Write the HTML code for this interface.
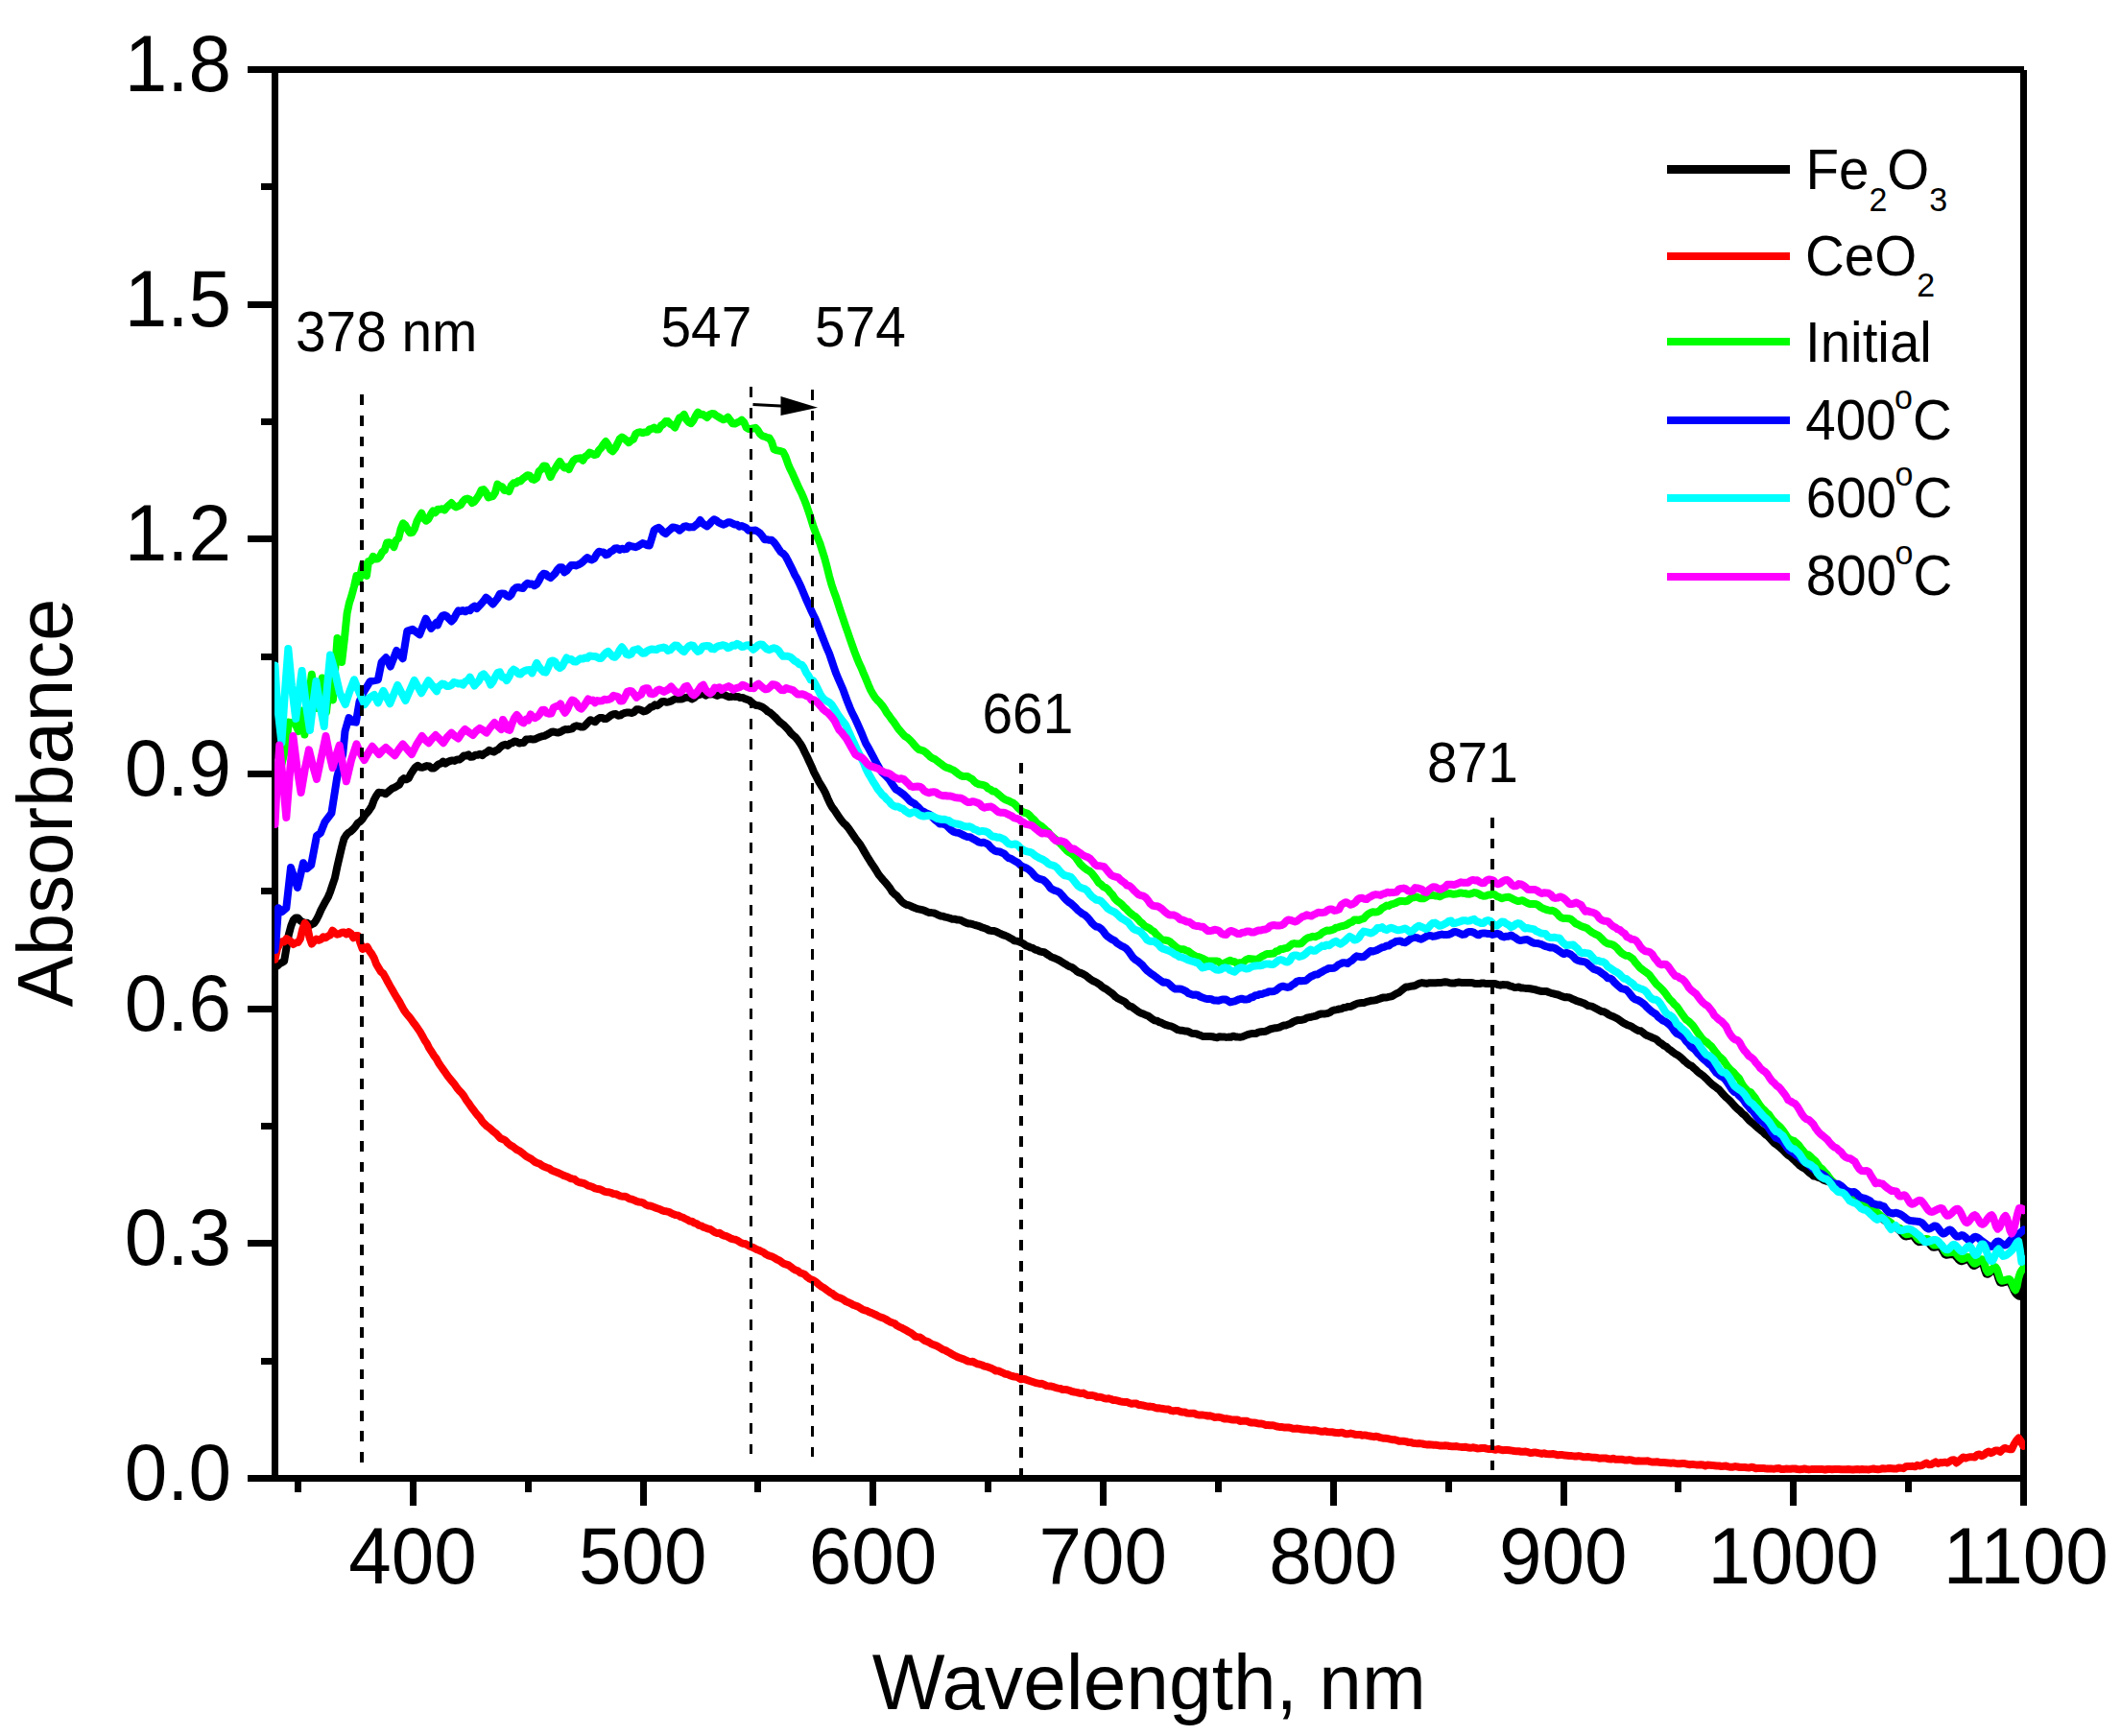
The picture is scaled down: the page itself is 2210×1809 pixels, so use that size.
<!DOCTYPE html>
<html><head><meta charset="utf-8"><title>Absorbance spectra</title>
<style>html,body{margin:0;padding:0;background:#fff}svg{display:block}</style></head>
<body>
<svg width="2210" height="1809" viewBox="0 0 2210 1809">
<rect width="2210" height="1809" fill="#fff"/>
<g fill="#000" shape-rendering="crispEdges">
<rect x="283" y="69" width="7" height="1475"/>
<rect x="258" y="69" width="1850.5" height="7"/>
<rect x="258" y="1537" width="1854" height="7"/>
<rect x="2105" y="72.5" width="7" height="1496.5"/>
<rect x="272" y="1415.0" width="12" height="7"/>
<rect x="258" y="1292.0" width="26" height="7"/>
<rect x="272" y="1170.0" width="12" height="7"/>
<rect x="258" y="1048.0" width="26" height="7"/>
<rect x="272" y="925.0" width="12" height="7"/>
<rect x="258" y="803.0" width="26" height="7"/>
<rect x="272" y="681.0" width="12" height="7"/>
<rect x="258" y="558.0" width="26" height="7"/>
<rect x="272" y="436.0" width="12" height="7"/>
<rect x="258" y="314.0" width="26" height="7"/>
<rect x="272" y="191.0" width="12" height="7"/>
<rect x="307.0" y="1543" width="7" height="12"/>
<rect x="427.0" y="1543" width="7" height="26"/>
<rect x="547.0" y="1543" width="7" height="12"/>
<rect x="667.0" y="1543" width="7" height="26"/>
<rect x="786.0" y="1543" width="7" height="12"/>
<rect x="906.0" y="1543" width="7" height="26"/>
<rect x="1026.0" y="1543" width="7" height="12"/>
<rect x="1146.0" y="1543" width="7" height="26"/>
<rect x="1266.0" y="1543" width="7" height="12"/>
<rect x="1386.0" y="1543" width="7" height="26"/>
<rect x="1506.0" y="1543" width="7" height="12"/>
<rect x="1626.0" y="1543" width="7" height="26"/>
<rect x="1745.0" y="1543" width="7" height="12"/>
<rect x="1865.0" y="1543" width="7" height="26"/>
<rect x="1985.0" y="1543" width="7" height="12"/>
</g>
<clipPath id="pc"><rect x="286" y="60" width="1824" height="1490"/></clipPath>
<g fill="none" stroke-width="8" stroke-linejoin="round" stroke-linecap="round" clip-path="url(#pc)">
<path stroke="#000000" d="M286.5 1006.9 L288.9 1006.6 L291.3 1004.4 L293.7 1003.0 L296.1 1001.5 L298.5 987.3 L300.9 973.7 L303.3 964.8 L305.7 958.7 L308.1 956.5 L310.5 956.6 L312.9 959.4 L315.3 960.9 L317.7 961.7 L320.1 961.7 L322.5 964.2 L324.9 963.2 L327.3 962.1 L329.7 958.5 L332.1 953.8 L334.5 948.1 L336.9 943.7 L339.3 939.2 L341.7 935.1 L344.1 929.3 L346.5 921.9 L348.9 915.0 L351.3 903.4 L353.7 893.0 L356.1 882.8 L358.5 873.9 L360.9 870.1 L363.3 867.6 L365.7 866.2 L368.1 863.8 L370.5 861.1 L372.9 857.6 L375.3 856.1 L377.7 853.5 L380.1 849.6 L382.5 846.9 L384.9 843.9 L387.3 840.3 L389.7 833.6 L392.1 829.3 L394.5 825.7 L396.9 826.1 L399.3 826.2 L401.7 827.3 L404.1 825.4 L406.5 823.3 L408.9 821.4 L411.3 820.5 L413.7 819.1 L416.1 817.8 L418.5 813.1 L420.9 811.1 L423.3 812.3 L425.7 811.2 L428.1 806.4 L430.5 802.7 L432.9 799.5 L435.3 797.8 L437.7 799.5 L440.1 799.8 L442.5 798.9 L444.9 798.1 L447.3 798.5 L449.7 800.6 L452.1 800.4 L454.5 798.7 L456.9 796.3 L459.3 795.7 L461.7 793.6 L464.1 795.6 L466.5 794.0 L468.9 793.0 L471.3 792.4 L473.7 792.9 L476.1 791.5 L478.5 791.6 L480.9 790.0 L483.3 787.4 L485.7 787.5 L488.1 786.4 L490.5 788.8 L492.9 788.5 L495.3 786.8 L497.7 786.7 L500.1 785.7 L502.5 787.2 L504.9 785.1 L507.3 783.9 L509.7 781.9 L512.1 782.7 L514.5 783.5 L516.9 782.0 L519.3 780.8 L521.7 778.3 L524.1 776.5 L526.5 775.8 L528.9 777.0 L531.3 774.9 L533.7 774.2 L536.1 772.4 L538.5 772.9 L540.9 774.6 L543.3 773.9 L545.7 773.9 L548.1 770.6 L550.5 770.4 L552.9 770.1 L555.3 770.5 L557.7 770.2 L560.1 769.0 L562.5 768.1 L564.9 767.2 L567.3 766.9 L569.7 765.7 L572.1 764.3 L574.5 762.8 L576.9 762.6 L579.3 763.2 L581.7 763.4 L584.1 762.6 L586.5 761.2 L588.9 760.0 L591.3 760.2 L593.7 759.8 L596.1 759.3 L598.5 757.0 L600.9 756.3 L603.3 756.8 L605.7 757.6 L608.1 757.5 L610.5 755.1 L612.9 752.6 L615.3 750.2 L617.7 751.3 L620.1 752.3 L622.5 749.6 L624.9 748.0 L627.3 747.9 L629.7 749.1 L632.1 748.9 L634.5 747.1 L636.9 745.2 L639.3 744.3 L641.7 744.1 L644.1 745.7 L646.5 745.3 L648.9 743.7 L651.3 742.9 L653.7 742.4 L656.1 742.6 L658.5 743.0 L660.9 741.8 L663.3 739.3 L665.7 739.2 L668.1 740.0 L670.5 741.4 L672.9 740.9 L675.3 739.4 L677.7 737.0 L680.1 736.4 L682.5 734.4 L684.9 735.3 L687.3 733.5 L689.7 731.2 L692.1 730.9 L694.5 731.8 L696.9 731.3 L699.3 730.7 L701.7 729.2 L704.1 727.9 L706.5 728.5 L708.9 728.5 L711.3 728.2 L713.7 727.1 L716.1 726.6 L718.5 726.9 L720.9 728.5 L723.3 727.2 L725.7 725.1 L728.1 724.1 L730.5 723.4 L732.9 722.8 L735.3 724.7 L737.7 723.4 L740.1 723.6 L742.5 723.1 L744.9 723.8 L747.3 725.0 L749.7 723.8 L752.1 723.6 L754.5 724.0 L756.9 725.1 L759.3 726.2 L761.7 726.1 L764.1 725.4 L766.5 726.1 L768.9 725.9 L771.3 727.1 L773.7 726.9 L776.1 728.1 L778.5 728.9 L780.9 729.8 L783.3 732.0 L785.7 733.9 L788.1 735.0 L790.5 735.3 L792.9 736.2 L795.3 737.4 L797.7 739.2 L800.1 741.5 L802.5 742.7 L804.9 744.8 L807.3 746.9 L809.7 749.3 L812.1 752.0 L814.5 753.9 L816.9 755.7 L819.3 758.2 L821.7 760.8 L824.1 764.0 L826.5 766.2 L828.9 768.3 L831.3 771.3 L833.7 774.7 L836.1 778.6 L838.5 783.7 L840.9 788.5 L843.3 793.7 L845.7 798.9 L848.1 804.6 L850.5 809.2 L852.9 813.9 L855.3 818.0 L857.7 821.8 L860.1 826.4 L862.5 832.1 L864.9 837.3 L867.3 841.6 L869.7 844.6 L872.1 848.2 L874.5 851.9 L876.9 855.2 L879.3 858.0 L881.7 860.1 L884.1 863.0 L886.5 866.5 L888.9 870.0 L891.3 873.5 L893.7 876.8 L896.1 879.7 L898.5 883.7 L900.9 888.0 L903.3 892.1 L905.7 895.9 L908.1 899.8 L910.5 903.3 L912.9 907.0 L915.3 911.1 L917.7 914.0 L920.1 916.9 L922.5 919.5 L924.9 922.4 L927.3 925.5 L929.7 929.4 L932.1 931.7 L934.5 933.5 L936.9 936.5 L939.3 939.2 L941.7 941.2 L944.1 942.7 L946.5 943.1 L948.9 944.1 L951.3 945.3 L953.7 946.3 L956.1 947.1 L958.5 947.6 L960.9 948.2 L963.3 948.9 L965.7 950.0 L968.1 950.9 L970.5 951.1 L972.9 951.4 L975.3 952.2 L977.7 953.6 L980.1 954.5 L982.5 954.8 L984.9 955.7 L987.3 956.2 L989.7 956.8 L992.1 957.7 L994.5 957.7 L996.9 958.4 L999.3 958.5 L1001.7 959.2 L1004.1 960.5 L1006.5 961.6 L1008.9 962.4 L1011.3 962.6 L1013.7 963.2 L1016.1 964.0 L1018.5 964.6 L1020.9 965.4 L1023.3 966.5 L1025.7 967.2 L1028.1 968.0 L1030.5 969.5 L1032.9 969.9 L1035.3 970.0 L1037.7 970.6 L1040.1 971.8 L1042.5 973.0 L1044.9 974.1 L1047.3 974.9 L1049.7 975.9 L1052.1 977.3 L1054.5 978.5 L1056.9 980.3 L1059.3 980.6 L1061.7 981.2 L1064.1 982.2 L1066.5 983.5 L1068.9 985.4 L1071.3 986.2 L1073.7 987.4 L1076.1 987.9 L1078.5 989.6 L1080.9 990.2 L1083.3 991.3 L1085.7 992.0 L1088.1 992.2 L1090.5 994.0 L1092.9 995.5 L1095.3 997.1 L1097.7 998.1 L1100.1 999.0 L1102.5 1000.2 L1104.9 1001.4 L1107.3 1003.1 L1109.7 1004.4 L1112.1 1005.9 L1114.5 1007.2 L1116.9 1008.0 L1119.3 1009.8 L1121.7 1011.8 L1124.1 1013.4 L1126.5 1014.0 L1128.9 1015.2 L1131.3 1016.5 L1133.7 1018.5 L1136.1 1020.4 L1138.5 1022.0 L1140.9 1023.0 L1143.3 1024.3 L1145.7 1025.8 L1148.1 1028.0 L1150.5 1029.7 L1152.9 1030.9 L1155.3 1032.7 L1157.7 1034.4 L1160.1 1036.4 L1162.5 1038.8 L1164.9 1040.5 L1167.3 1041.7 L1169.7 1042.8 L1172.1 1044.0 L1174.5 1046.6 L1176.9 1048.5 L1179.3 1049.1 L1181.7 1051.0 L1184.1 1052.7 L1186.5 1054.4 L1188.9 1055.7 L1191.3 1056.6 L1193.7 1057.7 L1196.1 1058.5 L1198.5 1060.3 L1200.9 1062.1 L1203.3 1063.4 L1205.7 1063.8 L1208.1 1065.2 L1210.5 1065.9 L1212.9 1067.2 L1215.3 1068.2 L1217.7 1068.9 L1220.1 1069.4 L1222.5 1070.4 L1224.9 1071.8 L1227.3 1073.2 L1229.7 1073.7 L1232.1 1073.8 L1234.5 1074.4 L1236.9 1074.4 L1239.3 1075.5 L1241.7 1076.8 L1244.1 1077.1 L1246.5 1077.2 L1248.9 1078.2 L1251.3 1079.1 L1253.7 1080.1 L1256.1 1079.9 L1258.5 1080.1 L1260.9 1080.0 L1263.3 1080.2 L1265.7 1080.9 L1268.1 1081.2 L1270.5 1080.2 L1272.9 1080.5 L1275.3 1080.4 L1277.7 1080.9 L1280.1 1080.6 L1282.5 1080.8 L1284.9 1079.7 L1287.3 1080.4 L1289.7 1080.6 L1292.1 1080.7 L1294.5 1080.4 L1296.9 1079.4 L1299.3 1078.4 L1301.7 1077.7 L1304.1 1077.1 L1306.5 1077.1 L1308.9 1076.9 L1311.3 1075.7 L1313.7 1075.2 L1316.1 1074.9 L1318.5 1074.7 L1320.9 1073.8 L1323.3 1072.5 L1325.7 1071.9 L1328.1 1071.3 L1330.5 1071.2 L1332.9 1070.7 L1335.3 1069.5 L1337.7 1068.6 L1340.1 1068.4 L1342.5 1067.4 L1344.9 1066.5 L1347.3 1065.0 L1349.7 1063.9 L1352.1 1063.1 L1354.5 1062.9 L1356.9 1062.7 L1359.3 1062.1 L1361.7 1060.6 L1364.1 1060.1 L1366.5 1059.7 L1368.9 1059.2 L1371.3 1058.6 L1373.7 1057.4 L1376.1 1056.6 L1378.5 1056.5 L1380.9 1056.4 L1383.3 1056.0 L1385.7 1055.1 L1388.1 1053.3 L1390.5 1052.5 L1392.9 1052.1 L1395.3 1051.5 L1397.7 1051.3 L1400.1 1050.0 L1402.5 1049.7 L1404.9 1048.9 L1407.3 1049.1 L1409.7 1047.8 L1412.1 1046.6 L1414.5 1045.6 L1416.9 1045.3 L1419.3 1045.0 L1421.7 1044.9 L1424.1 1043.9 L1426.5 1043.3 L1428.9 1042.7 L1431.3 1042.5 L1433.7 1042.1 L1436.1 1041.3 L1438.5 1040.4 L1440.9 1039.6 L1443.3 1039.5 L1445.7 1039.2 L1448.1 1038.7 L1450.5 1038.1 L1452.9 1036.6 L1455.3 1035.2 L1457.7 1034.3 L1460.1 1032.3 L1462.5 1030.2 L1464.9 1028.5 L1467.3 1028.4 L1469.7 1027.8 L1472.1 1027.6 L1474.5 1027.0 L1476.9 1025.7 L1479.3 1024.6 L1481.7 1024.1 L1484.1 1024.5 L1486.5 1024.9 L1488.9 1024.3 L1491.3 1024.2 L1493.7 1024.3 L1496.1 1024.2 L1498.5 1024.1 L1500.9 1024.1 L1503.3 1023.6 L1505.7 1023.2 L1508.1 1023.5 L1510.5 1024.3 L1512.9 1024.5 L1515.3 1024.6 L1517.7 1023.9 L1520.1 1023.5 L1522.5 1023.9 L1524.9 1024.1 L1527.3 1024.1 L1529.7 1024.0 L1532.1 1023.9 L1534.5 1024.2 L1536.9 1025.1 L1539.3 1025.0 L1541.7 1025.1 L1544.1 1024.4 L1546.5 1024.6 L1548.9 1025.1 L1551.3 1025.1 L1553.7 1025.1 L1556.1 1024.9 L1558.5 1025.3 L1560.9 1026.1 L1563.3 1026.7 L1565.7 1026.1 L1568.1 1026.3 L1570.5 1026.3 L1572.9 1027.3 L1575.3 1027.9 L1577.7 1028.9 L1580.1 1028.9 L1582.5 1028.5 L1584.9 1029.5 L1587.3 1029.6 L1589.7 1029.9 L1592.1 1030.0 L1594.5 1030.3 L1596.9 1030.7 L1599.3 1031.1 L1601.7 1031.9 L1604.1 1032.5 L1606.5 1033.0 L1608.9 1033.0 L1611.3 1032.9 L1613.7 1034.0 L1616.1 1034.8 L1618.5 1035.4 L1620.9 1036.0 L1623.3 1036.5 L1625.7 1037.5 L1628.1 1038.4 L1630.5 1039.2 L1632.9 1039.1 L1635.3 1039.5 L1637.7 1040.7 L1640.1 1041.7 L1642.5 1042.9 L1644.9 1043.6 L1647.3 1044.4 L1649.7 1045.2 L1652.1 1046.4 L1654.5 1048.0 L1656.9 1048.4 L1659.3 1048.9 L1661.7 1050.2 L1664.1 1051.5 L1666.5 1052.9 L1668.9 1054.0 L1671.3 1054.3 L1673.7 1055.5 L1676.1 1057.3 L1678.5 1058.4 L1680.9 1059.3 L1683.3 1060.5 L1685.7 1061.8 L1688.1 1063.5 L1690.5 1065.3 L1692.9 1066.7 L1695.3 1067.9 L1697.7 1068.8 L1700.1 1069.7 L1702.5 1071.4 L1704.9 1072.9 L1707.3 1074.0 L1709.7 1074.3 L1712.1 1076.2 L1714.5 1078.1 L1716.9 1079.3 L1719.3 1080.2 L1721.7 1081.4 L1724.1 1082.2 L1726.5 1083.7 L1728.9 1086.1 L1731.3 1087.5 L1733.7 1089.6 L1736.1 1090.6 L1738.5 1092.9 L1740.9 1094.6 L1743.3 1096.5 L1745.7 1098.2 L1748.1 1099.5 L1750.5 1101.2 L1752.9 1103.4 L1755.3 1105.8 L1757.7 1107.8 L1760.1 1109.7 L1762.5 1110.7 L1764.9 1113.0 L1767.3 1115.1 L1769.7 1117.5 L1772.1 1119.1 L1774.5 1120.9 L1776.9 1123.1 L1779.3 1125.4 L1781.7 1127.9 L1784.1 1130.2 L1786.5 1131.8 L1788.9 1133.7 L1791.3 1135.5 L1793.7 1138.3 L1796.1 1141.0 L1798.5 1143.5 L1800.9 1145.5 L1803.3 1147.9 L1805.7 1150.6 L1808.1 1153.3 L1810.5 1155.6 L1812.9 1157.5 L1815.3 1160.2 L1817.7 1161.9 L1820.1 1164.7 L1822.5 1167.4 L1824.9 1169.4 L1827.3 1171.3 L1829.7 1173.6 L1832.1 1175.8 L1834.5 1177.8 L1836.9 1179.5 L1839.3 1182.0 L1841.7 1183.5 L1844.1 1186.2 L1846.5 1188.8 L1848.9 1191.4 L1851.3 1192.9 L1853.7 1194.8 L1856.1 1196.9 L1858.5 1199.2 L1860.9 1201.6 L1863.3 1203.9 L1865.7 1205.4 L1868.1 1207.7 L1870.5 1209.8 L1872.9 1212.2 L1875.3 1214.5 L1877.7 1216.2 L1880.1 1217.6 L1882.5 1219.3 L1884.9 1221.7 L1887.3 1223.4 L1889.7 1225.6 L1892.1 1225.8 L1894.5 1227.0 L1896.9 1227.7 L1899.3 1229.2 L1901.7 1230.2 L1904.1 1231.1 L1906.5 1231.6 L1908.9 1232.5 L1911.3 1234.9 L1913.7 1236.5 L1916.1 1237.7 L1918.5 1238.6 L1920.9 1240.6 L1923.3 1242.1 L1925.7 1244.6 L1928.1 1246.2 L1930.5 1248.5 L1932.9 1249.5 L1935.3 1251.1 L1937.7 1254.9 L1940.1 1255.4 L1942.5 1257.2 L1944.9 1257.9 L1947.3 1259.5 L1949.7 1261.6 L1952.1 1264.3 L1954.5 1266.3 L1956.9 1266.9 L1959.3 1268.3 L1961.7 1270.3 L1964.1 1272.2 L1966.5 1273.5 L1968.9 1275.0 L1971.3 1275.8 L1973.7 1277.7 L1975.3 1278.9 L1976.9 1280.2 L1978.5 1281.6 L1980.1 1283.1 L1981.7 1285.1 L1983.3 1287.1 L1984.9 1288.3 L1986.5 1288.4 L1988.1 1288.1 L1989.7 1287.6 L1991.3 1287.3 L1992.9 1287.4 L1994.5 1288.9 L1996.1 1291.1 L1997.7 1293.2 L1999.3 1294.2 L2000.9 1294.1 L2002.5 1293.9 L2004.1 1293.5 L2005.7 1293.3 L2007.3 1293.2 L2008.9 1294.1 L2010.5 1295.9 L2012.1 1298.0 L2013.7 1299.5 L2015.3 1299.8 L2016.9 1299.6 L2018.5 1299.4 L2020.1 1299.2 L2021.7 1299.3 L2023.3 1301.4 L2024.9 1304.5 L2026.5 1307.1 L2028.1 1307.8 L2029.7 1307.6 L2031.3 1307.4 L2032.9 1307.1 L2034.5 1307.0 L2036.1 1307.4 L2037.7 1308.8 L2039.3 1310.7 L2040.9 1312.6 L2042.5 1313.9 L2044.1 1314.3 L2045.7 1313.8 L2047.3 1312.9 L2048.9 1312.1 L2050.5 1311.9 L2052.1 1313.4 L2053.7 1316.0 L2055.3 1318.3 L2056.9 1319.1 L2058.5 1318.4 L2060.1 1317.2 L2061.7 1315.8 L2063.3 1314.7 L2064.9 1314.4 L2066.5 1317.6 L2068.1 1323.3 L2069.7 1327.6 L2071.3 1327.8 L2072.9 1326.6 L2074.5 1325.0 L2076.1 1323.5 L2077.7 1322.5 L2079.3 1323.2 L2080.9 1327.3 L2082.5 1332.6 L2084.1 1336.4 L2085.7 1336.8 L2087.3 1336.5 L2088.9 1336.0 L2090.5 1335.6 L2092.1 1335.2 L2093.7 1335.5 L2095.3 1337.7 L2096.9 1341.1 L2098.5 1344.7 L2100.1 1347.5 L2101.7 1349.2 L2103.3 1350.6 L2104.9 1350.9 L2106.5 1348.4 L2108.1 1343.5 L2108.5 1342.0"/>
<path stroke="#ff0000" d="M286.5 999.7 L288.9 988.7 L291.3 983.6 L293.7 981.2 L296.1 981.5 L298.5 978.1 L300.9 979.7 L303.3 981.3 L305.7 984.0 L308.1 982.4 L310.5 982.1 L312.9 978.4 L315.3 968.2 L317.7 961.9 L320.1 965.1 L322.5 976.9 L324.9 983.6 L327.3 980.5 L329.7 978.5 L332.1 979.8 L334.5 978.8 L336.9 976.2 L339.3 977.2 L341.7 975.5 L344.1 974.3 L346.5 969.7 L348.9 972.0 L351.3 973.7 L353.7 973.1 L356.1 971.8 L358.5 971.4 L360.9 973.4 L363.3 971.1 L365.7 972.8 L368.1 977.2 L370.5 974.9 L372.9 974.9 L375.3 982.4 L377.7 988.9 L380.1 988.0 L382.5 986.6 L384.9 990.8 L387.3 994.0 L389.7 998.2 L392.1 1004.6 L394.5 1008.6 L396.9 1012.6 L399.3 1014.5 L401.7 1018.7 L404.1 1023.3 L406.5 1027.6 L408.9 1031.8 L411.3 1035.9 L413.7 1040.0 L416.1 1043.7 L418.5 1048.3 L420.9 1052.6 L423.3 1056.0 L425.7 1058.8 L428.1 1061.8 L430.5 1065.2 L432.9 1068.3 L435.3 1071.8 L437.7 1075.2 L440.1 1079.4 L442.5 1084.0 L444.9 1087.5 L447.3 1092.4 L449.7 1096.0 L452.1 1099.9 L454.5 1102.9 L456.9 1107.5 L459.3 1111.0 L461.7 1114.3 L464.1 1117.7 L466.5 1121.2 L468.9 1124.2 L471.3 1127.1 L473.7 1130.0 L476.1 1133.6 L478.5 1136.5 L480.9 1138.8 L483.3 1142.0 L485.7 1146.1 L488.1 1149.2 L490.5 1152.8 L492.9 1156.0 L495.3 1159.2 L497.7 1162.2 L500.1 1164.8 L502.5 1168.6 L504.9 1171.2 L507.3 1173.5 L509.7 1175.1 L512.1 1177.3 L514.5 1179.4 L516.9 1181.2 L519.3 1183.9 L521.7 1186.3 L524.1 1187.2 L526.5 1188.3 L528.9 1191.0 L531.3 1193.1 L533.7 1194.3 L536.1 1196.1 L538.5 1198.0 L540.9 1199.1 L543.3 1200.8 L545.7 1202.7 L548.1 1204.7 L550.5 1206.1 L552.9 1207.3 L555.3 1209.1 L557.7 1211.0 L560.1 1212.0 L562.5 1212.8 L564.9 1214.7 L567.3 1215.8 L569.7 1216.7 L572.1 1217.5 L574.5 1219.3 L576.9 1220.4 L579.3 1221.2 L581.7 1222.2 L584.1 1223.3 L586.5 1224.6 L588.9 1225.4 L591.3 1226.3 L593.7 1227.6 L596.1 1228.4 L598.5 1228.8 L600.9 1230.8 L603.3 1232.0 L605.7 1232.5 L608.1 1233.0 L610.5 1234.1 L612.9 1235.6 L615.3 1236.2 L617.7 1237.1 L620.1 1238.3 L622.5 1239.0 L624.9 1239.3 L627.3 1240.2 L629.7 1241.6 L632.1 1242.2 L634.5 1242.3 L636.9 1243.0 L639.3 1244.1 L641.7 1244.3 L644.1 1245.3 L646.5 1246.4 L648.9 1246.8 L651.3 1246.8 L653.7 1247.8 L656.1 1249.3 L658.5 1249.7 L660.9 1250.7 L663.3 1251.9 L665.7 1252.5 L668.1 1252.8 L670.5 1253.6 L672.9 1255.4 L675.3 1256.4 L677.7 1256.6 L680.1 1257.3 L682.5 1258.4 L684.9 1259.2 L687.3 1260.0 L689.7 1261.2 L692.1 1262.1 L694.5 1262.3 L696.9 1262.8 L699.3 1264.2 L701.7 1265.3 L704.1 1266.1 L706.5 1266.4 L708.9 1267.8 L711.3 1268.5 L713.7 1269.9 L716.1 1270.9 L718.5 1272.5 L720.9 1272.7 L723.3 1274.3 L725.7 1275.0 L728.1 1276.8 L730.5 1277.3 L732.9 1278.7 L735.3 1279.6 L737.7 1280.5 L740.1 1280.9 L742.5 1282.6 L744.9 1284.1 L747.3 1285.1 L749.7 1284.7 L752.1 1286.5 L754.5 1287.6 L756.9 1288.2 L759.3 1289.3 L761.7 1290.7 L764.1 1291.4 L766.5 1291.8 L768.9 1292.9 L771.3 1294.6 L773.7 1295.7 L776.1 1295.9 L778.5 1297.1 L780.9 1298.5 L783.3 1299.4 L785.7 1300.5 L788.1 1301.9 L790.5 1302.7 L792.9 1303.9 L795.3 1304.9 L797.7 1306.7 L800.1 1308.1 L802.5 1308.9 L804.9 1309.6 L807.3 1311.0 L809.7 1312.5 L812.1 1313.5 L814.5 1315.3 L816.9 1316.9 L819.3 1317.6 L821.7 1318.4 L824.1 1320.2 L826.5 1322.1 L828.9 1323.5 L831.3 1324.3 L833.7 1326.3 L836.1 1327.0 L838.5 1328.2 L840.9 1330.5 L843.3 1332.3 L845.7 1333.5 L848.1 1334.5 L850.5 1336.1 L852.9 1338.3 L855.3 1340.2 L857.7 1341.6 L860.1 1343.3 L862.5 1345.1 L864.9 1346.8 L867.3 1347.9 L869.7 1350.0 L872.1 1351.5 L874.5 1352.3 L876.9 1353.2 L879.3 1354.7 L881.7 1356.3 L884.1 1357.2 L886.5 1358.3 L888.9 1359.7 L891.3 1360.6 L893.7 1361.3 L896.1 1362.8 L898.5 1364.4 L900.9 1365.3 L903.3 1365.9 L905.7 1367.3 L908.1 1368.1 L910.5 1369.2 L912.9 1370.2 L915.3 1371.6 L917.7 1372.6 L920.1 1373.3 L922.5 1374.5 L924.9 1376.0 L927.3 1377.4 L929.7 1378.3 L932.1 1379.0 L934.5 1381.3 L936.9 1382.6 L939.3 1383.6 L941.7 1384.9 L944.1 1386.1 L946.5 1387.7 L948.9 1388.8 L951.3 1390.6 L953.7 1392.7 L956.1 1393.1 L958.5 1393.4 L960.9 1395.1 L963.3 1396.9 L965.7 1397.8 L968.1 1398.8 L970.5 1400.3 L972.9 1401.4 L975.3 1402.1 L977.7 1403.3 L980.1 1404.8 L982.5 1406.3 L984.9 1407.0 L987.3 1408.5 L989.7 1409.8 L992.1 1411.2 L994.5 1412.5 L996.9 1413.7 L999.3 1414.7 L1001.7 1415.6 L1004.1 1416.3 L1006.5 1417.5 L1008.9 1418.6 L1011.3 1418.9 L1013.7 1418.8 L1016.1 1420.2 L1018.5 1421.3 L1020.9 1421.7 L1023.3 1422.5 L1025.7 1423.6 L1028.1 1424.2 L1030.5 1424.9 L1032.9 1425.8 L1035.3 1427.0 L1037.7 1428.5 L1040.1 1428.4 L1042.5 1429.5 L1044.9 1430.4 L1047.3 1431.8 L1049.7 1432.0 L1052.1 1433.2 L1054.5 1434.0 L1056.9 1434.5 L1059.3 1434.8 L1061.7 1436.1 L1064.1 1437.3 L1066.5 1436.9 L1068.9 1437.5 L1071.3 1438.4 L1073.7 1439.2 L1076.1 1440.0 L1078.5 1440.8 L1080.9 1441.4 L1083.3 1441.9 L1085.7 1441.8 L1088.1 1442.9 L1090.5 1444.1 L1092.9 1444.4 L1095.3 1444.6 L1097.7 1445.2 L1100.1 1446.1 L1102.5 1446.6 L1104.9 1447.0 L1107.3 1448.1 L1109.7 1448.0 L1112.1 1448.3 L1114.5 1449.0 L1116.9 1450.0 L1119.3 1450.5 L1121.7 1450.9 L1124.1 1451.5 L1126.5 1452.0 L1128.9 1451.6 L1131.3 1453.0 L1133.7 1453.9 L1136.1 1453.9 L1138.5 1454.1 L1140.9 1454.6 L1143.3 1455.8 L1145.7 1455.8 L1148.1 1456.1 L1150.5 1457.1 L1152.9 1457.6 L1155.3 1457.3 L1157.7 1458.0 L1160.1 1459.1 L1162.5 1459.1 L1164.9 1459.7 L1167.3 1460.4 L1169.7 1460.8 L1172.1 1460.9 L1174.5 1461.1 L1176.9 1462.2 L1179.3 1462.8 L1181.7 1462.4 L1184.1 1462.6 L1186.5 1463.9 L1188.9 1464.1 L1191.3 1464.5 L1193.7 1465.2 L1196.1 1465.7 L1198.5 1465.6 L1200.9 1465.9 L1203.3 1466.7 L1205.7 1467.6 L1208.1 1467.3 L1210.5 1467.8 L1212.9 1468.2 L1215.3 1468.6 L1217.7 1468.6 L1220.1 1469.9 L1222.5 1470.4 L1224.9 1470.0 L1227.3 1470.1 L1229.7 1471.0 L1232.1 1471.6 L1234.5 1471.5 L1236.9 1472.6 L1239.3 1472.8 L1241.7 1472.7 L1244.1 1472.7 L1246.5 1473.8 L1248.9 1474.5 L1251.3 1474.5 L1253.7 1474.6 L1256.1 1474.9 L1258.5 1475.5 L1260.9 1475.3 L1263.3 1476.0 L1265.7 1476.9 L1268.1 1476.7 L1270.5 1476.8 L1272.9 1477.3 L1275.3 1478.4 L1277.7 1478.3 L1280.1 1478.6 L1282.5 1479.2 L1284.9 1479.4 L1287.3 1479.5 L1289.7 1479.6 L1292.1 1480.9 L1294.5 1480.8 L1296.9 1480.7 L1299.3 1480.8 L1301.7 1482.0 L1304.1 1482.5 L1306.5 1482.6 L1308.9 1482.8 L1311.3 1483.5 L1313.7 1483.5 L1316.1 1483.9 L1318.5 1484.9 L1320.9 1485.0 L1323.3 1485.2 L1325.7 1485.2 L1328.1 1485.7 L1330.5 1486.5 L1332.9 1486.9 L1335.3 1487.0 L1337.7 1487.4 L1340.1 1487.6 L1342.5 1487.5 L1344.9 1487.9 L1347.3 1488.8 L1349.7 1488.8 L1352.1 1488.6 L1354.5 1489.0 L1356.9 1489.6 L1359.3 1489.8 L1361.7 1489.7 L1364.1 1490.2 L1366.5 1490.4 L1368.9 1490.3 L1371.3 1490.5 L1373.7 1491.2 L1376.1 1491.7 L1378.5 1491.7 L1380.9 1491.3 L1383.3 1492.1 L1385.7 1492.2 L1388.1 1492.3 L1390.5 1492.7 L1392.9 1493.1 L1395.3 1493.2 L1397.7 1492.7 L1400.1 1493.4 L1402.5 1494.3 L1404.9 1494.2 L1407.3 1493.6 L1409.7 1494.2 L1412.1 1494.9 L1414.5 1495.1 L1416.9 1494.9 L1419.3 1495.7 L1421.7 1495.4 L1424.1 1495.8 L1426.5 1496.3 L1428.9 1496.7 L1431.3 1497.2 L1433.7 1496.8 L1436.1 1497.2 L1438.5 1498.2 L1440.9 1498.7 L1443.3 1498.8 L1445.7 1499.0 L1448.1 1499.7 L1450.5 1500.2 L1452.9 1500.2 L1455.3 1500.8 L1457.7 1501.7 L1460.1 1501.7 L1462.5 1501.7 L1464.9 1502.1 L1467.3 1502.9 L1469.7 1502.9 L1472.1 1503.7 L1474.5 1504.0 L1476.9 1504.2 L1479.3 1504.1 L1481.7 1504.4 L1484.1 1505.0 L1486.5 1505.4 L1488.9 1505.2 L1491.3 1505.4 L1493.7 1505.7 L1496.1 1505.7 L1498.5 1506.1 L1500.9 1506.6 L1503.3 1506.6 L1505.7 1506.3 L1508.1 1506.4 L1510.5 1507.1 L1512.9 1507.3 L1515.3 1507.2 L1517.7 1507.1 L1520.1 1507.6 L1522.5 1507.9 L1524.9 1508.0 L1527.3 1507.8 L1529.7 1508.5 L1532.1 1508.8 L1534.5 1508.3 L1536.9 1508.7 L1539.3 1509.4 L1541.7 1509.3 L1544.1 1509.0 L1546.5 1508.9 L1548.9 1509.6 L1551.3 1510.0 L1553.7 1509.9 L1556.1 1510.3 L1558.5 1510.8 L1560.9 1510.0 L1563.3 1510.6 L1565.7 1511.2 L1568.1 1511.1 L1570.5 1511.1 L1572.9 1511.3 L1575.3 1511.6 L1577.7 1512.0 L1580.1 1512.2 L1582.5 1512.3 L1584.9 1512.7 L1587.3 1512.7 L1589.7 1512.6 L1592.1 1513.2 L1594.5 1514.1 L1596.9 1513.8 L1599.3 1513.4 L1601.7 1513.9 L1604.1 1514.4 L1606.5 1514.9 L1608.9 1514.3 L1611.3 1515.1 L1613.7 1515.2 L1616.1 1515.2 L1618.5 1515.0 L1620.9 1515.7 L1623.3 1516.3 L1625.7 1516.0 L1628.1 1516.1 L1630.5 1516.6 L1632.9 1516.7 L1635.3 1516.9 L1637.7 1517.1 L1640.1 1517.4 L1642.5 1517.5 L1644.9 1517.1 L1647.3 1517.5 L1649.7 1518.3 L1652.1 1518.2 L1654.5 1518.0 L1656.9 1518.4 L1659.3 1518.8 L1661.7 1518.7 L1664.1 1518.9 L1666.5 1519.8 L1668.9 1519.5 L1671.3 1519.4 L1673.7 1519.6 L1676.1 1520.3 L1678.5 1520.6 L1680.9 1519.8 L1683.3 1520.7 L1685.7 1520.7 L1688.1 1520.7 L1690.5 1520.8 L1692.9 1521.5 L1695.3 1521.6 L1697.7 1521.1 L1700.1 1521.4 L1702.5 1522.3 L1704.9 1522.4 L1707.3 1522.3 L1709.7 1522.4 L1712.1 1522.6 L1714.5 1522.4 L1716.9 1522.3 L1719.3 1523.1 L1721.7 1523.5 L1724.1 1523.4 L1726.5 1523.3 L1728.9 1523.7 L1731.3 1524.0 L1733.7 1524.1 L1736.1 1524.2 L1738.5 1524.4 L1740.9 1524.7 L1743.3 1524.4 L1745.7 1524.9 L1748.1 1525.3 L1750.5 1525.3 L1752.9 1525.1 L1755.3 1525.1 L1757.7 1525.6 L1760.1 1526.2 L1762.5 1526.0 L1764.9 1526.1 L1767.3 1526.4 L1769.7 1526.4 L1772.1 1526.2 L1774.5 1526.5 L1776.9 1527.5 L1779.3 1526.6 L1781.7 1526.7 L1784.1 1526.9 L1786.5 1527.2 L1788.9 1527.5 L1791.3 1527.5 L1793.7 1528.1 L1796.1 1527.7 L1798.5 1527.6 L1800.9 1528.3 L1803.3 1528.8 L1805.7 1528.7 L1808.1 1528.1 L1810.5 1528.5 L1812.9 1529.0 L1815.3 1529.0 L1817.7 1529.0 L1820.1 1529.3 L1822.5 1529.5 L1824.9 1528.7 L1827.3 1529.2 L1829.7 1530.2 L1832.1 1529.9 L1834.5 1530.1 L1836.9 1529.9 L1839.3 1530.3 L1841.7 1530.6 L1844.1 1530.4 L1846.5 1530.6 L1848.9 1530.7 L1851.3 1530.2 L1853.7 1530.0 L1856.1 1530.9 L1858.5 1531.0 L1860.9 1530.6 L1863.3 1530.8 L1865.7 1530.8 L1868.1 1530.4 L1870.5 1530.5 L1872.9 1531.0 L1875.3 1531.3 L1877.7 1531.1 L1880.1 1530.5 L1882.5 1531.0 L1884.9 1531.4 L1887.3 1531.1 L1889.7 1531.0 L1892.1 1531.0 L1894.5 1530.9 L1896.9 1531.0 L1899.3 1531.1 L1901.7 1531.5 L1904.1 1531.0 L1906.5 1530.9 L1908.9 1531.3 L1911.3 1531.1 L1913.7 1530.9 L1916.1 1531.1 L1918.5 1531.3 L1920.9 1531.2 L1923.3 1531.2 L1925.7 1531.1 L1928.1 1531.3 L1930.5 1531.5 L1932.9 1531.2 L1935.3 1531.0 L1937.7 1531.4 L1940.1 1531.0 L1942.5 1531.2 L1944.9 1531.3 L1947.3 1531.4 L1949.7 1530.9 L1952.1 1530.5 L1954.5 1531.1 L1956.9 1531.3 L1959.3 1530.8 L1961.7 1530.2 L1964.1 1530.5 L1966.5 1530.3 L1968.9 1530.0 L1971.3 1530.2 L1973.7 1530.6 L1976.1 1530.4 L1978.5 1529.5 L1980.9 1529.7 L1983.3 1530.2 L1985.7 1528.3 L1988.1 1528.0 L1990.5 1528.1 L1992.9 1527.8 L1995.3 1528.3 L1997.7 1526.8 L2000.1 1527.5 L2002.5 1527.1 L2004.9 1525.8 L2007.3 1524.5 L2009.7 1526.2 L2012.1 1526.1 L2014.5 1524.7 L2016.9 1523.4 L2019.3 1525.1 L2021.7 1524.1 L2024.1 1524.2 L2026.5 1523.7 L2028.9 1524.4 L2031.3 1523.1 L2033.7 1521.4 L2036.1 1521.2 L2038.5 1524.4 L2040.9 1522.5 L2043.3 1520.4 L2045.7 1518.5 L2048.1 1519.6 L2050.5 1518.6 L2052.9 1518.3 L2055.3 1518.2 L2057.7 1518.5 L2060.1 1515.9 L2062.5 1515.5 L2064.9 1517.2 L2067.3 1516.0 L2069.7 1513.8 L2072.1 1512.5 L2074.5 1514.1 L2076.9 1513.0 L2079.3 1511.4 L2081.7 1511.4 L2084.1 1512.9 L2086.5 1510.5 L2088.9 1508.9 L2091.3 1509.7 L2093.7 1510.2 L2096.1 1510.2 L2098.5 1505.1 L2100.9 1501.4 L2103.3 1498.5 L2105.7 1501.9 L2108.1 1506.8"/>
<path stroke="#00ff00" d="M286.5 795.0 L292.0 802.0 L298.0 778.0 L300.8 752.6 L307.3 753.5 L311.0 762.0 L314.6 740.6 L317.4 765.5 L321.0 735.0 L324.8 702.8 L330.0 738.0 L335.8 706.5 L340.0 742.0 L343.0 715.0 L346.9 729.5 L351.5 665.0 L356.1 690.0 L359.0 665.0 L361.6 639.2 L364.0 628.0 L366.0 622.0 L369.0 611.0 L371.5 600.0 L374.0 606.0 L378.0 588.0 L382.0 600.0 L384.0 585.0 L386.4 584.6 L388.8 579.8 L391.2 582.6 L393.6 582.2 L396.0 579.7 L398.4 575.1 L400.8 573.3 L403.2 565.5 L405.6 565.3 L408.0 566.6 L410.4 570.1 L412.8 562.8 L415.2 561.1 L417.6 551.3 L420.0 545.3 L422.4 547.3 L424.8 551.7 L427.2 555.2 L429.6 554.8 L432.0 550.9 L434.4 543.4 L436.8 538.7 L439.2 534.7 L441.6 540.1 L444.0 542.7 L446.4 541.0 L448.8 536.2 L451.2 532.4 L453.6 534.2 L456.0 530.7 L458.4 530.8 L460.8 530.2 L463.2 531.5 L465.6 528.5 L468.0 526.3 L470.4 524.1 L472.8 526.8 L475.2 528.4 L477.6 527.3 L480.0 526.2 L482.4 522.5 L484.8 520.1 L487.2 519.6 L489.6 520.7 L492.0 524.1 L494.4 522.7 L496.8 519.4 L499.2 515.7 L501.6 510.6 L504.0 510.1 L506.4 513.2 L508.8 518.4 L511.2 517.6 L513.6 517.0 L516.0 513.1 L518.4 504.7 L520.8 506.4 L523.2 507.3 L525.6 511.0 L528.0 510.9 L530.4 512.0 L532.8 506.0 L535.2 503.3 L537.6 503.5 L540.0 501.2 L542.4 501.5 L544.8 498.7 L547.2 497.0 L549.6 495.2 L552.0 495.7 L554.4 499.1 L556.8 499.9 L559.2 498.1 L561.6 491.1 L564.0 489.2 L566.4 485.4 L568.8 485.7 L571.2 491.0 L573.6 497.0 L576.0 491.8 L578.4 488.5 L580.8 484.5 L583.2 480.9 L585.6 484.7 L588.0 487.5 L590.4 486.5 L592.8 489.1 L595.2 484.1 L597.6 480.0 L600.0 478.2 L602.4 477.6 L604.8 477.3 L607.2 479.8 L609.6 475.9 L612.0 474.4 L614.4 471.6 L616.8 472.7 L619.2 474.1 L621.6 473.4 L624.0 469.3 L626.4 466.8 L628.8 463.0 L631.2 460.1 L633.6 463.6 L636.0 468.5 L638.4 470.2 L640.8 467.3 L643.2 462.7 L645.6 457.6 L648.0 455.5 L650.4 456.9 L652.8 459.0 L655.2 461.2 L657.6 459.1 L660.0 457.8 L662.4 452.1 L664.8 450.6 L667.2 450.3 L669.6 451.1 L672.0 450.4 L674.4 450.3 L676.8 447.4 L679.2 446.8 L681.6 445.6 L684.0 447.5 L686.4 447.5 L688.8 443.5 L691.2 442.0 L693.6 439.1 L696.0 439.1 L698.4 441.7 L700.8 443.1 L703.2 445.6 L705.6 440.4 L708.0 435.4 L710.4 434.3 L712.8 432.0 L715.2 437.1 L717.6 439.9 L720.0 441.2 L722.4 438.2 L724.8 433.5 L727.2 429.7 L729.6 432.1 L732.0 431.7 L734.4 433.3 L736.8 435.0 L739.2 432.2 L741.6 431.0 L744.0 431.3 L746.4 433.1 L748.8 434.5 L751.2 436.0 L753.6 437.3 L756.0 436.4 L758.4 434.7 L760.8 437.9 L763.2 441.3 L765.6 441.6 L768.0 440.4 L770.4 439.4 L772.8 437.6 L775.2 440.0 L777.6 445.4 L780.0 447.1 L782.4 447.0 L784.8 446.4 L787.2 445.8 L789.6 448.3 L792.0 452.3 L794.4 454.3 L796.8 454.8 L799.2 456.0 L801.6 456.5 L804.0 460.3 L806.4 468.0 L808.8 469.1 L811.2 469.7 L813.6 470.2 L816.0 471.1 L818.4 475.6 L820.8 482.4 L823.2 488.4 L825.6 493.1 L828.0 498.7 L830.4 504.0 L832.8 509.3 L835.2 514.0 L837.6 519.6 L840.0 525.7 L842.4 532.7 L844.8 540.1 L847.2 547.8 L849.6 554.4 L852.0 560.5 L854.4 566.3 L856.8 574.0 L859.2 581.5 L861.6 590.6 L864.0 600.3 L866.4 608.9 L868.8 616.1 L871.2 622.5 L873.6 630.0 L876.0 637.5 L878.4 644.5 L880.8 651.7 L883.2 658.5 L885.6 665.5 L888.0 672.3 L890.4 679.1 L892.8 685.4 L895.2 691.2 L897.6 696.3 L900.0 702.2 L902.4 707.7 L904.8 713.6 L907.2 719.1 L909.6 723.4 L912.0 727.2 L914.4 729.9 L916.8 732.2 L919.2 735.1 L921.6 738.5 L924.0 742.7 L926.4 745.8 L928.8 749.2 L931.2 752.3 L933.6 755.8 L936.0 759.4 L938.4 762.2 L940.8 764.9 L943.2 767.4 L945.6 768.8 L948.0 770.9 L950.4 773.4 L952.8 776.4 L955.2 779.2 L957.6 781.1 L960.0 781.7 L962.4 782.6 L964.8 784.3 L967.2 786.5 L969.6 788.9 L972.0 790.3 L974.4 791.2 L976.8 793.2 L979.2 795.1 L981.6 796.8 L984.0 798.7 L986.4 799.9 L988.8 800.5 L991.2 801.6 L993.6 802.6 L996.0 804.5 L998.4 806.4 L1000.8 808.1 L1003.2 808.9 L1005.6 809.1 L1008.0 809.0 L1010.4 810.4 L1012.8 811.7 L1015.2 814.4 L1017.6 816.2 L1020.0 817.3 L1022.4 817.6 L1024.8 818.1 L1027.2 819.2 L1029.6 821.6 L1032.0 822.6 L1034.4 824.5 L1036.8 824.7 L1039.2 826.7 L1041.6 828.8 L1044.0 830.8 L1046.4 832.7 L1048.8 833.8 L1051.2 834.6 L1053.6 835.9 L1056.0 837.0 L1058.4 839.1 L1060.8 841.9 L1063.2 844.0 L1065.6 846.0 L1068.0 847.0 L1070.4 847.6 L1072.8 849.6 L1075.2 852.4 L1077.6 854.4 L1080.0 857.3 L1082.4 859.2 L1084.8 860.6 L1087.2 862.7 L1089.6 865.0 L1092.0 866.7 L1094.4 870.0 L1096.8 872.0 L1099.2 874.0 L1101.6 876.3 L1104.0 878.2 L1106.4 880.6 L1108.8 883.3 L1111.2 885.9 L1113.6 888.0 L1116.0 889.3 L1118.4 891.1 L1120.8 893.5 L1123.2 897.0 L1125.6 900.3 L1128.0 902.7 L1130.4 904.8 L1132.8 906.5 L1135.2 907.7 L1137.6 909.9 L1140.0 913.0 L1142.4 916.2 L1144.8 919.9 L1147.2 921.5 L1149.6 924.0 L1152.0 925.0 L1154.4 926.9 L1156.8 930.0 L1159.2 932.5 L1161.6 936.2 L1164.0 938.7 L1166.4 940.4 L1168.8 942.3 L1171.2 945.1 L1173.6 947.1 L1176.0 949.8 L1178.4 951.9 L1180.8 953.9 L1183.2 955.3 L1185.6 957.7 L1188.0 960.5 L1190.4 962.3 L1192.8 965.0 L1195.2 966.1 L1197.6 967.3 L1200.0 969.4 L1202.4 970.7 L1204.8 973.7 L1207.2 976.0 L1209.6 978.4 L1212.0 979.4 L1214.4 979.8 L1216.8 980.2 L1219.2 981.3 L1221.6 983.6 L1224.0 985.6 L1226.4 987.8 L1228.8 988.8 L1231.2 989.3 L1233.6 989.3 L1236.0 990.5 L1238.4 991.3 L1240.8 993.3 L1243.2 994.9 L1245.6 996.3 L1248.0 997.0 L1250.4 997.6 L1252.8 998.6 L1255.2 999.9 L1257.6 1001.1 L1260.0 1001.5 L1262.4 1001.5 L1264.8 1001.4 L1267.2 1001.4 L1269.6 1001.9 L1272.0 1004.0 L1274.4 1004.4 L1276.8 1003.1 L1279.2 1002.0 L1281.6 1000.7 L1284.0 1001.8 L1286.4 1002.2 L1288.8 1004.1 L1291.2 1003.3 L1293.6 1003.3 L1296.0 1002.1 L1298.4 1000.2 L1300.8 999.1 L1303.2 999.2 L1305.6 999.4 L1308.0 999.8 L1310.4 999.4 L1312.8 998.0 L1315.2 996.4 L1317.6 995.3 L1320.0 994.0 L1322.4 994.0 L1324.8 993.8 L1327.2 993.6 L1329.6 991.4 L1332.0 990.8 L1334.4 988.9 L1336.8 988.9 L1339.2 988.1 L1341.6 987.7 L1344.0 985.6 L1346.4 983.7 L1348.8 983.1 L1351.2 983.6 L1353.6 983.5 L1356.0 983.0 L1358.4 980.6 L1360.8 978.4 L1363.2 977.1 L1365.6 976.6 L1368.0 975.8 L1370.4 976.3 L1372.8 975.2 L1375.2 974.3 L1377.6 972.1 L1380.0 970.8 L1382.4 969.6 L1384.8 969.7 L1387.2 969.3 L1389.6 968.5 L1392.0 966.7 L1394.4 966.4 L1396.8 965.4 L1399.2 965.0 L1401.6 964.2 L1404.0 963.2 L1406.4 961.6 L1408.8 960.7 L1411.2 958.5 L1413.6 958.5 L1416.0 959.1 L1418.4 957.8 L1420.8 957.2 L1423.2 954.6 L1425.6 952.5 L1428.0 951.1 L1430.4 950.3 L1432.8 950.5 L1435.2 950.3 L1437.6 949.0 L1440.0 946.5 L1442.4 945.1 L1444.8 943.6 L1447.2 943.9 L1449.6 942.4 L1452.0 941.8 L1454.4 941.0 L1456.8 939.6 L1459.2 939.0 L1461.6 939.1 L1464.0 939.2 L1466.4 938.8 L1468.8 937.0 L1471.2 935.2 L1473.6 935.2 L1476.0 934.5 L1478.4 935.6 L1480.8 936.3 L1483.2 936.3 L1485.6 935.1 L1488.0 933.5 L1490.4 932.9 L1492.8 932.9 L1495.2 933.4 L1497.6 933.5 L1500.0 934.3 L1502.4 933.1 L1504.8 932.2 L1507.2 931.7 L1509.6 931.1 L1512.0 931.3 L1514.4 931.8 L1516.8 931.5 L1519.2 931.1 L1521.6 930.4 L1524.0 930.8 L1526.4 930.9 L1528.8 931.6 L1531.2 931.7 L1533.6 931.1 L1536.0 930.1 L1538.4 930.5 L1540.8 931.5 L1543.2 933.0 L1545.6 933.7 L1548.0 933.6 L1550.4 932.6 L1552.8 932.5 L1555.2 931.5 L1557.6 932.3 L1560.0 934.2 L1562.4 934.9 L1564.8 936.2 L1567.2 935.4 L1569.6 935.0 L1572.0 934.7 L1574.4 935.8 L1576.8 937.1 L1579.2 938.1 L1581.6 939.1 L1584.0 938.7 L1586.4 938.2 L1588.8 939.7 L1591.2 940.8 L1593.6 942.0 L1596.0 941.9 L1598.4 942.1 L1600.8 942.3 L1603.2 943.6 L1605.6 945.5 L1608.0 946.7 L1610.4 947.6 L1612.8 948.4 L1615.2 948.9 L1617.6 948.8 L1620.0 949.9 L1622.4 951.8 L1624.8 954.7 L1627.2 956.4 L1629.6 957.1 L1632.0 957.1 L1634.4 957.2 L1636.8 957.9 L1639.2 959.8 L1641.6 962.3 L1644.0 963.3 L1646.4 964.6 L1648.8 965.7 L1651.2 966.4 L1653.6 967.2 L1656.0 969.4 L1658.4 971.2 L1660.8 972.6 L1663.2 973.8 L1665.6 975.1 L1668.0 977.2 L1670.4 979.8 L1672.8 981.9 L1675.2 983.3 L1677.6 983.7 L1680.0 984.3 L1682.4 985.7 L1684.8 987.7 L1687.2 990.7 L1689.6 993.1 L1692.0 994.7 L1694.4 995.8 L1696.8 996.0 L1699.2 997.6 L1701.6 999.5 L1704.0 1002.8 L1706.4 1005.6 L1708.8 1008.5 L1711.2 1010.3 L1713.6 1012.1 L1716.0 1013.8 L1718.4 1015.6 L1720.8 1018.9 L1723.2 1022.0 L1725.6 1025.2 L1728.0 1027.4 L1730.4 1029.7 L1732.8 1032.1 L1735.2 1035.0 L1737.6 1038.4 L1740.0 1041.6 L1742.4 1043.8 L1744.8 1046.8 L1747.2 1048.8 L1749.6 1052.3 L1752.0 1055.9 L1754.4 1059.1 L1756.8 1062.4 L1759.2 1064.0 L1761.6 1066.2 L1764.0 1068.7 L1766.4 1072.3 L1768.8 1075.9 L1771.2 1079.0 L1773.6 1082.3 L1776.0 1084.7 L1778.4 1086.0 L1780.8 1088.4 L1783.2 1090.3 L1785.6 1093.6 L1788.0 1096.8 L1790.4 1099.8 L1792.8 1102.1 L1795.2 1104.2 L1797.6 1107.8 L1800.0 1111.2 L1802.4 1114.1 L1804.8 1116.2 L1807.2 1118.5 L1809.6 1121.3 L1812.0 1123.7 L1814.4 1128.2 L1816.8 1132.2 L1819.2 1134.9 L1821.6 1137.3 L1824.0 1138.0 L1826.4 1141.1 L1828.8 1144.0 L1831.2 1148.0 L1833.6 1151.7 L1836.0 1154.8 L1838.4 1156.8 L1840.8 1159.6 L1843.2 1161.5 L1845.6 1165.2 L1848.0 1168.0 L1850.4 1170.3 L1852.8 1172.6 L1855.2 1174.7 L1857.6 1177.7 L1860.0 1181.3 L1862.4 1185.0 L1864.8 1187.3 L1867.2 1188.2 L1869.6 1189.1 L1872.0 1191.3 L1874.4 1193.5 L1876.8 1196.9 L1879.2 1199.6 L1881.6 1202.7 L1884.0 1203.1 L1886.4 1205.1 L1888.8 1207.5 L1891.2 1209.5 L1893.6 1212.6 L1896.0 1216.2 L1898.4 1218.0 L1900.8 1220.7 L1903.2 1223.2 L1905.6 1226.5 L1908.0 1229.7 L1910.4 1231.9 L1912.8 1234.5 L1915.2 1235.0 L1917.6 1236.1 L1920.0 1238.0 L1922.4 1241.1 L1924.8 1243.5 L1927.2 1245.5 L1929.6 1247.4 L1932.0 1247.7 L1934.4 1247.9 L1936.8 1248.5 L1939.2 1251.1 L1941.6 1254.7 L1944.0 1257.5 L1946.4 1259.0 L1948.8 1259.2 L1951.2 1260.0 L1953.6 1260.5 L1956.0 1263.6 L1958.4 1265.8 L1960.8 1268.0 L1963.2 1269.8 L1965.6 1271.2 L1968.0 1272.4 L1970.4 1274.2 L1972.8 1277.3 L1975.2 1279.0 L1976.8 1279.1 L1978.4 1279.5 L1980.0 1280.0 L1981.6 1281.3 L1983.2 1283.4 L1984.8 1285.3 L1986.4 1286.3 L1988.0 1286.1 L1989.6 1285.7 L1991.2 1285.2 L1992.8 1285.0 L1994.4 1285.7 L1996.0 1287.6 L1997.6 1289.9 L1999.2 1291.6 L2000.8 1292.0 L2002.4 1291.8 L2004.0 1291.5 L2005.6 1291.2 L2007.2 1291.0 L2008.8 1291.2 L2010.4 1292.6 L2012.0 1294.6 L2013.6 1296.5 L2015.2 1297.6 L2016.8 1297.5 L2018.4 1297.3 L2020.0 1297.1 L2021.6 1297.0 L2023.2 1297.8 L2024.8 1300.5 L2026.4 1303.6 L2028.0 1305.5 L2029.6 1305.5 L2031.2 1305.3 L2032.8 1305.1 L2034.4 1304.9 L2036.0 1304.8 L2037.6 1305.7 L2039.2 1307.4 L2040.8 1309.4 L2042.4 1311.1 L2044.0 1312.0 L2045.6 1311.9 L2047.2 1311.2 L2048.8 1310.3 L2050.4 1309.8 L2052.0 1310.2 L2053.6 1312.3 L2055.2 1314.9 L2056.8 1316.7 L2058.4 1316.7 L2060.0 1315.7 L2061.6 1314.4 L2063.2 1313.0 L2064.8 1312.2 L2066.4 1313.0 L2068.0 1317.9 L2069.6 1323.4 L2071.2 1325.8 L2072.8 1325.2 L2074.4 1323.8 L2076.0 1322.1 L2077.6 1320.8 L2079.2 1320.2 L2080.8 1322.5 L2082.4 1327.4 L2084.0 1332.4 L2085.6 1334.7 L2087.2 1334.5 L2088.8 1334.1 L2090.4 1333.6 L2092.0 1333.2 L2093.6 1333.0 L2095.2 1334.5 L2096.8 1338.3 L2098.4 1342.3 L2100.0 1344.4 L2101.6 1340.5 L2103.2 1332.0 L2104.8 1326.9 L2106.4 1323.8 L2108.0 1322.0 L2108.5 1321.8"/>
<path stroke="#0000ff" d="M286.5 990.0 L287.7 979.3 L290.0 946.3 L294.0 950.0 L298.3 946.3 L303.0 903.9 L310.0 925.0 L316.0 899.2 L320.0 905.0 L324.2 901.5 L330.0 870.9 L334.0 868.0 L338.4 856.7 L345.4 847.3 L351.3 809.6 L357.2 786.0 L359.5 762.0 L363.5 748.0 L367.0 752.0 L370.9 752.6 L374.5 731.4 L378.4 722.0 L385.6 710.2 L393.9 708.3 L397.6 690.0 L402.2 685.3 L406.8 694.5 L413.2 678.0 L419.7 686.2 L424.3 657.6 L429.8 655.8 L437.2 661.3 L443.7 644.7 L449.2 654.9 L455.0 648.4 L456.0 651.4 L458.4 645.7 L460.8 641.8 L463.2 640.9 L465.6 642.3 L468.0 645.0 L470.4 647.4 L472.8 645.0 L475.2 640.4 L477.6 636.4 L480.0 637.0 L482.4 636.1 L484.8 637.3 L487.2 635.7 L489.6 636.2 L492.0 633.2 L494.4 631.7 L496.8 634.1 L499.2 631.5 L501.6 629.0 L504.0 626.2 L506.4 622.6 L508.8 624.4 L511.2 626.9 L513.6 629.4 L516.0 626.5 L518.4 623.5 L520.8 619.0 L523.2 618.4 L525.6 618.7 L528.0 620.7 L530.4 621.7 L532.8 619.5 L535.2 614.6 L537.6 612.5 L540.0 611.9 L542.4 612.6 L544.8 613.0 L547.2 609.8 L549.6 607.7 L552.0 608.7 L554.4 608.4 L556.8 610.2 L559.2 608.8 L561.6 605.1 L564.0 600.2 L566.4 597.7 L568.8 598.1 L571.2 600.8 L573.6 602.1 L576.0 599.8 L578.4 597.5 L580.8 593.8 L583.2 591.2 L585.6 591.3 L588.0 596.3 L590.4 594.9 L592.8 591.6 L595.2 589.0 L597.6 588.9 L600.0 589.4 L602.4 588.5 L604.8 587.4 L607.2 585.5 L609.6 583.1 L612.0 581.0 L614.4 582.6 L616.8 583.4 L619.2 582.0 L621.6 577.8 L624.0 574.8 L626.4 575.2 L628.8 575.4 L631.2 578.3 L633.6 577.4 L636.0 575.0 L638.4 573.7 L640.8 571.5 L643.2 571.3 L645.6 573.0 L648.0 571.7 L650.4 572.4 L652.8 572.1 L655.2 568.5 L657.6 569.1 L660.0 569.6 L662.4 570.2 L664.8 569.1 L667.2 567.6 L669.6 566.1 L672.0 566.8 L674.4 568.2 L676.8 568.4 L679.2 560.6 L681.6 552.5 L684.0 550.7 L686.4 549.9 L688.8 551.9 L691.2 554.6 L693.6 556.1 L696.0 553.8 L698.4 551.7 L700.8 549.5 L703.2 549.8 L705.6 550.3 L708.0 552.7 L710.4 550.9 L712.8 548.6 L715.2 548.2 L717.6 549.5 L720.0 549.2 L722.4 549.3 L724.8 547.4 L727.2 545.5 L729.6 542.0 L732.0 545.3 L734.4 547.1 L736.8 548.4 L739.2 546.1 L741.6 543.2 L744.0 541.2 L746.4 542.3 L748.8 544.4 L751.2 545.6 L753.6 546.7 L756.0 545.8 L758.4 544.3 L760.8 544.3 L763.2 545.6 L765.6 546.5 L768.0 546.8 L770.4 548.8 L772.8 548.0 L775.2 548.9 L777.6 550.3 L780.0 552.8 L782.4 552.8 L784.8 552.7 L787.2 552.6 L789.6 553.9 L792.0 555.7 L794.4 558.7 L796.8 562.3 L799.2 562.2 L801.6 562.8 L804.0 562.8 L806.4 564.9 L808.8 568.1 L811.2 571.8 L813.6 575.2 L816.0 576.8 L818.4 579.4 L820.8 583.8 L823.2 588.7 L825.6 593.3 L828.0 598.7 L830.4 602.8 L832.8 607.7 L835.2 613.0 L837.6 618.7 L840.0 624.5 L842.4 629.7 L844.8 635.2 L847.2 640.3 L849.6 645.1 L852.0 651.1 L854.4 657.2 L856.8 663.3 L859.2 669.4 L861.6 675.4 L864.0 680.8 L866.4 687.9 L868.8 695.0 L871.2 701.8 L873.6 707.5 L876.0 713.0 L878.4 718.5 L880.8 725.1 L883.2 731.6 L885.6 737.6 L888.0 743.0 L890.4 747.6 L892.8 752.7 L895.2 758.1 L897.6 763.6 L900.0 769.5 L902.4 775.2 L904.8 779.1 L907.2 783.6 L909.6 788.1 L912.0 792.8 L914.4 797.3 L916.8 801.5 L919.2 804.8 L921.6 807.1 L924.0 809.5 L926.4 812.1 L928.8 815.7 L931.2 819.4 L933.6 822.7 L936.0 823.8 L938.4 825.7 L940.8 827.3 L943.2 829.5 L945.6 831.9 L948.0 834.6 L950.4 836.2 L952.8 837.3 L955.2 839.9 L957.6 841.9 L960.0 844.4 L962.4 845.7 L964.8 847.1 L967.2 848.1 L969.6 849.3 L972.0 852.1 L974.4 854.6 L976.8 856.3 L979.2 858.4 L981.6 858.4 L984.0 859.0 L986.4 860.3 L988.8 862.8 L991.2 865.0 L993.6 866.7 L996.0 867.5 L998.4 867.7 L1000.8 868.7 L1003.2 870.0 L1005.6 871.1 L1008.0 872.1 L1010.4 872.2 L1012.8 873.4 L1015.2 874.7 L1017.6 876.1 L1020.0 877.7 L1022.4 878.2 L1024.8 877.8 L1027.2 878.7 L1029.6 879.9 L1032.0 882.8 L1034.4 885.0 L1036.8 886.6 L1039.2 887.3 L1041.6 887.5 L1044.0 888.6 L1046.4 889.7 L1048.8 892.4 L1051.2 894.2 L1053.6 894.9 L1056.0 896.4 L1058.4 897.8 L1060.8 899.1 L1063.2 901.5 L1065.6 903.1 L1068.0 904.0 L1070.4 905.1 L1072.8 906.9 L1075.2 909.2 L1077.6 912.1 L1080.0 914.5 L1082.4 915.6 L1084.8 916.3 L1087.2 917.1 L1089.6 919.1 L1092.0 921.7 L1094.4 925.3 L1096.8 926.9 L1099.2 928.0 L1101.6 928.7 L1104.0 930.0 L1106.4 932.6 L1108.8 935.4 L1111.2 937.9 L1113.6 940.0 L1116.0 941.5 L1118.4 943.7 L1120.8 946.0 L1123.2 948.6 L1125.6 950.4 L1128.0 952.3 L1130.4 953.6 L1132.8 955.7 L1135.2 958.4 L1137.6 961.6 L1140.0 964.0 L1142.4 965.7 L1144.8 966.2 L1147.2 967.8 L1149.6 970.4 L1152.0 973.8 L1154.4 976.1 L1156.8 977.8 L1159.2 979.2 L1161.6 980.4 L1164.0 982.8 L1166.4 984.3 L1168.8 985.8 L1171.2 986.9 L1173.6 988.6 L1176.0 991.2 L1178.4 994.7 L1180.8 998.1 L1183.2 1000.2 L1185.6 1001.7 L1188.0 1003.6 L1190.4 1005.8 L1192.8 1008.7 L1195.2 1011.3 L1197.6 1013.2 L1200.0 1014.9 L1202.4 1016.6 L1204.8 1018.4 L1207.2 1020.3 L1209.6 1022.0 L1212.0 1023.7 L1214.4 1023.5 L1216.8 1024.3 L1219.2 1026.3 L1221.6 1028.6 L1224.0 1030.4 L1226.4 1030.6 L1228.8 1030.6 L1231.2 1030.8 L1233.6 1031.9 L1236.0 1033.1 L1238.4 1035.2 L1240.8 1035.9 L1243.2 1036.8 L1245.6 1036.5 L1248.0 1037.0 L1250.4 1038.5 L1252.8 1039.5 L1255.2 1040.3 L1257.6 1041.0 L1260.0 1040.9 L1262.4 1041.2 L1264.8 1042.5 L1267.2 1042.6 L1269.6 1042.8 L1272.0 1041.9 L1274.4 1041.4 L1276.8 1041.4 L1279.2 1042.6 L1281.6 1044.4 L1284.0 1043.8 L1286.4 1043.4 L1288.8 1042.3 L1291.2 1041.3 L1293.6 1040.7 L1296.0 1041.4 L1298.4 1041.5 L1300.8 1041.1 L1303.2 1039.5 L1305.6 1039.0 L1308.0 1037.2 L1310.4 1037.1 L1312.8 1035.9 L1315.2 1035.9 L1317.6 1034.9 L1320.0 1034.4 L1322.4 1033.2 L1324.8 1033.3 L1327.2 1033.0 L1329.6 1032.1 L1332.0 1030.0 L1334.4 1028.3 L1336.8 1027.7 L1339.2 1028.3 L1341.6 1028.9 L1344.0 1028.3 L1346.4 1026.4 L1348.8 1025.0 L1351.2 1022.8 L1353.6 1022.0 L1356.0 1022.3 L1358.4 1022.1 L1360.8 1021.7 L1363.2 1019.7 L1365.6 1017.8 L1368.0 1016.8 L1370.4 1015.4 L1372.8 1015.6 L1375.2 1013.8 L1377.6 1012.6 L1380.0 1011.1 L1382.4 1010.1 L1384.8 1008.9 L1387.2 1009.1 L1389.6 1008.8 L1392.0 1007.6 L1394.4 1005.4 L1396.8 1004.4 L1399.2 1003.2 L1401.6 1003.3 L1404.0 1004.0 L1406.4 1002.1 L1408.8 1000.7 L1411.2 998.2 L1413.6 996.3 L1416.0 996.8 L1418.4 997.2 L1420.8 997.0 L1423.2 995.1 L1425.6 993.1 L1428.0 991.0 L1430.4 991.5 L1432.8 990.7 L1435.2 989.9 L1437.6 988.5 L1440.0 987.3 L1442.4 986.9 L1444.8 985.5 L1447.2 985.6 L1449.6 983.5 L1452.0 982.6 L1454.4 981.0 L1456.8 980.7 L1459.2 980.4 L1461.6 981.9 L1464.0 982.2 L1466.4 980.8 L1468.8 978.9 L1471.2 977.5 L1473.6 976.7 L1476.0 977.1 L1478.4 978.0 L1480.8 978.8 L1483.2 977.5 L1485.6 976.1 L1488.0 974.9 L1490.4 974.9 L1492.8 975.9 L1495.2 975.5 L1497.6 974.9 L1500.0 974.1 L1502.4 973.6 L1504.8 974.1 L1507.2 974.1 L1509.6 973.8 L1512.0 972.8 L1514.4 971.3 L1516.8 971.0 L1519.2 971.8 L1521.6 973.0 L1524.0 973.9 L1526.4 973.5 L1528.8 971.6 L1531.2 970.9 L1533.6 971.1 L1536.0 971.9 L1538.4 973.6 L1540.8 974.3 L1543.2 972.7 L1545.6 972.6 L1548.0 972.6 L1550.4 973.0 L1552.8 973.0 L1555.2 973.9 L1557.6 973.3 L1560.0 972.8 L1562.4 973.6 L1564.8 975.7 L1567.2 976.4 L1569.6 975.7 L1572.0 975.7 L1574.4 974.5 L1576.8 976.0 L1579.2 977.3 L1581.6 979.2 L1584.0 980.1 L1586.4 979.6 L1588.8 979.2 L1591.2 979.0 L1593.6 980.3 L1596.0 981.7 L1598.4 982.7 L1600.8 982.9 L1603.2 983.3 L1605.6 983.8 L1608.0 985.0 L1610.4 986.1 L1612.8 986.6 L1615.2 987.4 L1617.6 987.2 L1620.0 988.0 L1622.4 989.5 L1624.8 991.1 L1627.2 992.9 L1629.6 994.1 L1632.0 992.9 L1634.4 993.6 L1636.8 994.7 L1639.2 996.7 L1641.6 999.4 L1644.0 1000.7 L1646.4 1001.5 L1648.8 1001.9 L1651.2 1002.4 L1653.6 1003.4 L1656.0 1005.9 L1658.4 1007.9 L1660.8 1010.0 L1663.2 1010.7 L1665.6 1011.6 L1668.0 1013.3 L1670.4 1015.1 L1672.8 1016.8 L1675.2 1019.3 L1677.6 1019.4 L1680.0 1020.9 L1682.4 1023.9 L1684.8 1026.2 L1687.2 1028.2 L1689.6 1030.2 L1692.0 1030.7 L1694.4 1031.4 L1696.8 1033.6 L1699.2 1036.7 L1701.6 1039.8 L1704.0 1041.5 L1706.4 1042.2 L1708.8 1043.4 L1711.2 1045.0 L1713.6 1046.9 L1716.0 1049.6 L1718.4 1051.7 L1720.8 1053.9 L1723.2 1055.5 L1725.6 1057.0 L1728.0 1059.8 L1730.4 1061.7 L1732.8 1063.6 L1735.2 1064.5 L1737.6 1066.2 L1740.0 1068.3 L1742.4 1070.9 L1744.8 1074.4 L1747.2 1077.1 L1749.6 1078.1 L1752.0 1079.4 L1754.4 1081.2 L1756.8 1084.8 L1759.2 1087.2 L1761.6 1090.4 L1764.0 1092.3 L1766.4 1094.3 L1768.8 1097.3 L1771.2 1099.6 L1773.6 1102.3 L1776.0 1104.5 L1778.4 1106.6 L1780.8 1108.9 L1783.2 1110.5 L1785.6 1114.2 L1788.0 1117.5 L1790.4 1119.4 L1792.8 1121.4 L1795.2 1122.5 L1797.6 1124.7 L1800.0 1128.1 L1802.4 1131.8 L1804.8 1135.5 L1807.2 1137.9 L1809.6 1138.8 L1812.0 1141.5 L1814.4 1143.7 L1816.8 1146.4 L1819.2 1150.1 L1821.6 1152.8 L1824.0 1155.7 L1826.4 1157.9 L1828.8 1161.1 L1831.2 1164.2 L1833.6 1167.0 L1836.0 1168.5 L1838.4 1170.5 L1840.8 1172.4 L1843.2 1175.7 L1845.6 1179.4 L1848.0 1182.4 L1850.4 1185.7 L1852.8 1186.4 L1855.2 1187.6 L1857.6 1189.6 L1860.0 1192.7 L1862.4 1196.1 L1864.8 1199.0 L1867.2 1200.2 L1869.6 1201.8 L1872.0 1203.9 L1874.4 1205.3 L1876.8 1207.9 L1879.2 1209.9 L1881.6 1211.5 L1884.0 1213.2 L1886.4 1215.3 L1888.8 1217.4 L1891.2 1219.3 L1893.6 1221.1 L1896.0 1222.7 L1898.4 1223.3 L1900.8 1225.0 L1903.2 1227.3 L1905.6 1229.6 L1908.0 1231.6 L1910.4 1233.1 L1912.8 1233.8 L1915.2 1233.7 L1917.6 1235.1 L1920.0 1237.1 L1922.4 1239.4 L1924.8 1241.1 L1927.2 1241.8 L1929.6 1242.5 L1932.0 1241.9 L1934.4 1243.7 L1936.8 1246.3 L1939.2 1247.8 L1941.6 1248.5 L1944.0 1249.1 L1946.4 1250.3 L1948.8 1251.6 L1951.2 1254.2 L1953.6 1254.7 L1956.0 1255.6 L1958.4 1255.5 L1960.8 1256.6 L1963.2 1257.4 L1965.6 1260.9 L1968.0 1263.3 L1970.4 1264.0 L1972.8 1264.6 L1975.2 1263.7 L1976.8 1264.1 L1978.4 1264.7 L1980.0 1265.3 L1981.6 1266.2 L1983.2 1267.4 L1984.8 1268.7 L1986.4 1270.0 L1988.0 1271.1 L1989.6 1271.8 L1991.2 1272.1 L1992.8 1272.3 L1994.4 1272.5 L1996.0 1272.6 L1997.6 1272.8 L1999.2 1273.0 L2000.8 1273.4 L2002.4 1274.1 L2004.0 1275.7 L2005.6 1277.5 L2007.2 1279.2 L2008.8 1280.4 L2010.4 1280.5 L2012.0 1279.7 L2013.6 1278.6 L2015.2 1277.6 L2016.8 1277.5 L2018.4 1278.5 L2020.0 1280.4 L2021.6 1282.6 L2023.2 1284.5 L2024.8 1285.5 L2026.4 1285.1 L2028.0 1283.9 L2029.6 1282.4 L2031.2 1281.5 L2032.8 1281.9 L2034.4 1283.5 L2036.0 1285.6 L2037.6 1287.5 L2039.2 1288.6 L2040.8 1288.5 L2042.4 1287.8 L2044.0 1287.1 L2045.6 1287.4 L2047.2 1288.6 L2048.8 1290.2 L2050.4 1291.7 L2052.0 1292.6 L2053.6 1292.4 L2055.2 1290.9 L2056.8 1289.3 L2058.4 1288.7 L2060.0 1289.2 L2061.6 1290.3 L2063.2 1291.7 L2064.8 1293.0 L2066.4 1294.1 L2068.0 1295.2 L2069.6 1296.5 L2071.2 1297.6 L2072.8 1298.4 L2074.4 1298.9 L2076.0 1298.8 L2077.6 1297.3 L2079.2 1295.2 L2080.8 1293.7 L2082.4 1293.6 L2084.0 1294.5 L2085.6 1295.8 L2087.2 1297.0 L2088.8 1297.6 L2090.4 1297.1 L2092.0 1295.6 L2093.6 1293.7 L2095.2 1291.9 L2096.8 1290.6 L2098.4 1289.5 L2100.0 1288.4 L2101.6 1287.3 L2103.2 1286.1 L2104.8 1284.8 L2106.4 1283.4 L2108.0 1282.0 L2108.5 1281.5"/>
<path stroke="#00ffff" d="M286.5 693.6 L289.0 735.0 L293.4 774.0 L297.0 720.0 L300.3 676.0 L304.0 715.0 L308.2 749.0 L311.5 722.0 L314.6 699.0 L319.0 735.0 L322.9 761.0 L326.0 735.0 L329.4 710.0 L333.5 735.0 L337.7 757.0 L341.0 715.0 L344.1 682.5 L349.0 700.0 L354.0 722.0 L359.8 734.0 L364.5 720.0 L369.0 708.3 L374.5 722.0 L380.0 734.0 L385.0 727.0 L390.0 724.0 L393.9 732.3 L399.4 719.9 L406.3 733.2 L414.2 713.9 L422.5 730.0 L431.7 708.8 L439.0 722.2 L446.4 709.3 L455.0 720.3 L456.0 716.2 L458.4 714.6 L460.8 712.5 L463.2 713.2 L465.6 714.9 L468.0 715.1 L470.4 713.8 L472.8 711.0 L475.2 711.6 L477.6 712.5 L480.0 712.1 L482.4 713.6 L484.8 710.2 L487.2 709.3 L489.6 705.7 L492.0 710.2 L494.4 714.5 L496.8 711.7 L499.2 709.2 L501.6 703.9 L504.0 702.3 L506.4 705.2 L508.8 708.0 L511.2 713.5 L513.6 710.5 L516.0 705.4 L518.4 701.1 L520.8 700.3 L523.2 705.7 L525.6 705.8 L528.0 709.1 L530.4 705.4 L532.8 700.1 L535.2 697.7 L537.6 699.2 L540.0 702.0 L542.4 702.6 L544.8 700.1 L547.2 698.9 L549.6 698.2 L552.0 698.0 L554.4 701.4 L556.8 696.1 L559.2 690.8 L561.6 694.9 L564.0 697.8 L566.4 700.1 L568.8 700.6 L571.2 695.6 L573.6 689.1 L576.0 688.5 L578.4 689.6 L580.8 694.3 L583.2 696.1 L585.6 694.5 L588.0 690.0 L590.4 685.5 L592.8 687.2 L595.2 686.9 L597.6 689.2 L600.0 689.6 L602.4 688.0 L604.8 686.3 L607.2 686.6 L609.6 685.4 L612.0 685.8 L614.4 683.4 L616.8 683.7 L619.2 683.9 L621.6 684.5 L624.0 685.9 L626.4 685.9 L628.8 683.0 L631.2 680.4 L633.6 678.8 L636.0 681.5 L638.4 684.1 L640.8 684.8 L643.2 682.3 L645.6 677.4 L648.0 674.3 L650.4 677.4 L652.8 681.7 L655.2 682.5 L657.6 681.6 L660.0 677.7 L662.4 677.0 L664.8 676.3 L667.2 678.6 L669.6 680.7 L672.0 680.5 L674.4 678.3 L676.8 677.1 L679.2 676.5 L681.6 676.7 L684.0 677.1 L686.4 675.6 L688.8 675.1 L691.2 674.6 L693.6 675.4 L696.0 677.9 L698.4 677.2 L700.8 674.6 L703.2 672.6 L705.6 672.7 L708.0 675.1 L710.4 677.5 L712.8 679.0 L715.2 675.9 L717.6 673.4 L720.0 672.3 L722.4 672.9 L724.8 676.5 L727.2 678.9 L729.6 677.8 L732.0 673.7 L734.4 673.3 L736.8 673.1 L739.2 673.2 L741.6 676.1 L744.0 676.4 L746.4 674.3 L748.8 673.1 L751.2 672.7 L753.6 672.2 L756.0 673.0 L758.4 675.2 L760.8 674.4 L763.2 672.5 L765.6 672.8 L768.0 670.9 L770.4 672.0 L772.8 674.1 L775.2 673.7 L777.6 672.5 L780.0 672.2 L782.4 674.3 L784.8 676.8 L787.2 675.0 L789.6 672.5 L792.0 671.6 L794.4 671.7 L796.8 674.3 L799.2 676.5 L801.6 677.2 L804.0 676.1 L806.4 675.2 L808.8 676.1 L811.2 677.8 L813.6 681.4 L816.0 683.8 L818.4 683.8 L820.8 683.8 L823.2 684.5 L825.6 686.3 L828.0 688.7 L830.4 689.9 L832.8 692.2 L835.2 692.6 L837.6 695.6 L840.0 700.8 L842.4 704.1 L844.8 708.5 L847.2 709.2 L849.6 713.1 L852.0 717.9 L854.4 722.8 L856.8 726.6 L859.2 729.0 L861.6 730.6 L864.0 731.8 L866.4 733.9 L868.8 737.7 L871.2 741.4 L873.6 745.5 L876.0 748.7 L878.4 751.9 L880.8 754.8 L883.2 759.8 L885.6 765.1 L888.0 770.6 L890.4 775.4 L892.8 780.7 L895.2 785.6 L897.6 790.2 L900.0 795.1 L902.4 801.2 L904.8 806.0 L907.2 810.1 L909.6 814.2 L912.0 817.9 L914.4 821.9 L916.8 824.9 L919.2 828.1 L921.6 830.0 L924.0 832.9 L926.4 834.8 L928.8 838.1 L931.2 839.8 L933.6 840.6 L936.0 840.6 L938.4 842.0 L940.8 842.8 L943.2 844.9 L945.6 846.6 L948.0 847.8 L950.4 846.7 L952.8 846.1 L955.2 847.0 L957.6 849.0 L960.0 850.0 L962.4 850.5 L964.8 850.2 L967.2 849.8 L969.6 850.0 L972.0 850.5 L974.4 851.9 L976.8 853.0 L979.2 853.5 L981.6 854.0 L984.0 853.7 L986.4 854.5 L988.8 855.2 L991.2 857.0 L993.6 857.8 L996.0 858.5 L998.4 858.8 L1000.8 859.4 L1003.2 860.6 L1005.6 861.3 L1008.0 861.5 L1010.4 861.3 L1012.8 862.4 L1015.2 864.2 L1017.6 864.9 L1020.0 866.5 L1022.4 866.1 L1024.8 866.1 L1027.2 866.5 L1029.6 867.7 L1032.0 870.0 L1034.4 871.8 L1036.8 871.7 L1039.2 872.7 L1041.6 872.6 L1044.0 873.7 L1046.4 874.7 L1048.8 877.3 L1051.2 879.4 L1053.6 879.9 L1056.0 879.8 L1058.4 879.4 L1060.8 881.0 L1063.2 883.7 L1065.6 885.1 L1068.0 886.6 L1070.4 887.3 L1072.8 887.8 L1075.2 888.7 L1077.6 890.7 L1080.0 892.4 L1082.4 893.8 L1084.8 894.9 L1087.2 896.0 L1089.6 897.6 L1092.0 899.7 L1094.4 901.1 L1096.8 901.7 L1099.2 902.6 L1101.6 904.4 L1104.0 907.4 L1106.4 909.9 L1108.8 912.0 L1111.2 912.6 L1113.6 913.2 L1116.0 914.1 L1118.4 916.9 L1120.8 920.1 L1123.2 923.1 L1125.6 924.8 L1128.0 925.6 L1130.4 926.3 L1132.8 928.2 L1135.2 931.5 L1137.6 934.2 L1140.0 935.9 L1142.4 937.8 L1144.8 938.0 L1147.2 939.0 L1149.6 941.5 L1152.0 944.1 L1154.4 946.9 L1156.8 948.3 L1159.2 949.5 L1161.6 950.6 L1164.0 952.6 L1166.4 955.1 L1168.8 957.0 L1171.2 958.4 L1173.6 959.9 L1176.0 961.5 L1178.4 964.9 L1180.8 967.7 L1183.2 969.0 L1185.6 969.8 L1188.0 970.5 L1190.4 973.4 L1192.8 976.0 L1195.2 979.4 L1197.6 980.5 L1200.0 981.0 L1202.4 980.7 L1204.8 982.4 L1207.2 984.3 L1209.6 987.3 L1212.0 988.7 L1214.4 989.4 L1216.8 990.3 L1219.2 991.2 L1221.6 992.6 L1224.0 994.4 L1226.4 995.2 L1228.8 997.0 L1231.2 997.4 L1233.6 998.2 L1236.0 999.4 L1238.4 1000.5 L1240.8 1001.3 L1243.2 1001.8 L1245.6 1002.8 L1248.0 1003.2 L1250.4 1005.9 L1252.8 1008.5 L1255.2 1007.8 L1257.6 1007.1 L1260.0 1006.7 L1262.4 1007.2 L1264.8 1008.9 L1267.2 1010.6 L1269.6 1010.7 L1272.0 1010.4 L1274.4 1008.6 L1276.8 1008.3 L1279.2 1008.8 L1281.6 1010.9 L1284.0 1011.9 L1286.4 1012.7 L1288.8 1010.3 L1291.2 1008.9 L1293.6 1008.2 L1296.0 1008.7 L1298.4 1009.5 L1300.8 1009.3 L1303.2 1007.9 L1305.6 1006.8 L1308.0 1006.5 L1310.4 1006.3 L1312.8 1006.3 L1315.2 1005.8 L1317.6 1004.8 L1320.0 1004.4 L1322.4 1004.5 L1324.8 1005.1 L1327.2 1004.7 L1329.6 1002.8 L1332.0 1000.7 L1334.4 1000.1 L1336.8 1000.7 L1339.2 1002.0 L1341.6 1002.6 L1344.0 1000.8 L1346.4 996.5 L1348.8 995.4 L1351.2 995.4 L1353.6 996.9 L1356.0 996.3 L1358.4 995.4 L1360.8 993.5 L1363.2 991.1 L1365.6 989.5 L1368.0 990.8 L1370.4 990.7 L1372.8 988.9 L1375.2 987.4 L1377.6 985.6 L1380.0 986.0 L1382.4 984.5 L1384.8 985.3 L1387.2 983.5 L1389.6 981.9 L1392.0 980.8 L1394.4 982.5 L1396.8 983.8 L1399.2 982.1 L1401.6 980.3 L1404.0 977.8 L1406.4 975.9 L1408.8 977.2 L1411.2 979.5 L1413.6 979.1 L1416.0 977.0 L1418.4 973.2 L1420.8 970.6 L1423.2 971.0 L1425.6 971.7 L1428.0 972.4 L1430.4 971.6 L1432.8 969.9 L1435.2 967.1 L1437.6 967.1 L1440.0 966.1 L1442.4 968.2 L1444.8 969.0 L1447.2 967.6 L1449.6 966.8 L1452.0 967.6 L1454.4 968.7 L1456.8 969.3 L1459.2 968.9 L1461.6 968.3 L1464.0 967.4 L1466.4 968.9 L1468.8 970.9 L1471.2 970.3 L1473.6 968.2 L1476.0 966.1 L1478.4 964.7 L1480.8 965.8 L1483.2 966.7 L1485.6 968.0 L1488.0 967.0 L1490.4 964.1 L1492.8 962.0 L1495.2 961.6 L1497.6 963.2 L1500.0 964.8 L1502.4 964.2 L1504.8 963.1 L1507.2 961.8 L1509.6 959.9 L1512.0 959.5 L1514.4 962.3 L1516.8 961.8 L1519.2 961.0 L1521.6 960.2 L1524.0 959.2 L1526.4 959.2 L1528.8 959.7 L1531.2 959.5 L1533.6 958.5 L1536.0 957.8 L1538.4 960.1 L1540.8 960.9 L1543.2 962.0 L1545.6 962.0 L1548.0 959.8 L1550.4 959.0 L1552.8 959.8 L1555.2 962.0 L1557.6 964.5 L1560.0 964.5 L1562.4 962.5 L1564.8 960.5 L1567.2 960.7 L1569.6 962.7 L1572.0 963.8 L1574.4 966.1 L1576.8 965.0 L1579.2 963.2 L1581.6 962.0 L1584.0 962.7 L1586.4 964.7 L1588.8 967.5 L1591.2 967.0 L1593.6 967.5 L1596.0 967.9 L1598.4 968.4 L1600.8 970.3 L1603.2 971.2 L1605.6 972.5 L1608.0 972.8 L1610.4 973.0 L1612.8 976.1 L1615.2 976.9 L1617.6 977.0 L1620.0 976.8 L1622.4 977.4 L1624.8 977.4 L1627.2 980.7 L1629.6 983.2 L1632.0 985.1 L1634.4 984.8 L1636.8 984.8 L1639.2 984.5 L1641.6 986.7 L1644.0 988.8 L1646.4 992.2 L1648.8 993.1 L1651.2 992.8 L1653.6 993.3 L1656.0 993.7 L1658.4 996.4 L1660.8 999.2 L1663.2 1001.4 L1665.6 1001.0 L1668.0 1002.2 L1670.4 1002.3 L1672.8 1003.9 L1675.2 1007.3 L1677.6 1008.7 L1680.0 1010.3 L1682.4 1012.0 L1684.8 1013.2 L1687.2 1014.8 L1689.6 1017.4 L1692.0 1019.7 L1694.4 1020.0 L1696.8 1021.9 L1699.2 1023.7 L1701.6 1025.3 L1704.0 1028.3 L1706.4 1029.0 L1708.8 1030.2 L1711.2 1030.8 L1713.6 1032.0 L1716.0 1034.4 L1718.4 1038.0 L1720.8 1040.4 L1723.2 1041.6 L1725.6 1041.8 L1728.0 1043.4 L1730.4 1046.5 L1732.8 1050.4 L1735.2 1054.5 L1737.6 1057.2 L1740.0 1057.8 L1742.4 1059.7 L1744.8 1062.5 L1747.2 1067.1 L1749.6 1068.6 L1752.0 1071.5 L1754.4 1073.3 L1756.8 1075.4 L1759.2 1078.5 L1761.6 1081.8 L1764.0 1083.7 L1766.4 1084.3 L1768.8 1086.0 L1771.2 1090.0 L1773.6 1093.4 L1776.0 1096.7 L1778.4 1099.2 L1780.8 1100.0 L1783.2 1101.9 L1785.6 1104.2 L1788.0 1108.1 L1790.4 1111.9 L1792.8 1115.7 L1795.2 1117.5 L1797.6 1117.7 L1800.0 1120.1 L1802.4 1123.3 L1804.8 1127.8 L1807.2 1131.6 L1809.6 1133.5 L1812.0 1135.3 L1814.4 1136.7 L1816.8 1139.2 L1819.2 1142.4 L1821.6 1146.4 L1824.0 1148.9 L1826.4 1150.5 L1828.8 1153.3 L1831.2 1155.7 L1833.6 1158.7 L1836.0 1161.5 L1838.4 1164.1 L1840.8 1166.1 L1843.2 1168.8 L1845.6 1172.4 L1848.0 1176.1 L1850.4 1179.0 L1852.8 1179.4 L1855.2 1181.6 L1857.6 1183.4 L1860.0 1187.4 L1862.4 1191.5 L1864.8 1194.8 L1867.2 1196.8 L1869.6 1197.4 L1872.0 1199.6 L1874.4 1201.9 L1876.8 1205.3 L1879.2 1209.2 L1881.6 1211.7 L1884.0 1212.8 L1886.4 1213.7 L1888.8 1215.6 L1891.2 1217.4 L1893.6 1222.3 L1896.0 1225.2 L1898.4 1227.0 L1900.8 1228.3 L1903.2 1228.7 L1905.6 1230.8 L1908.0 1233.7 L1910.4 1237.5 L1912.8 1239.6 L1915.2 1242.1 L1917.6 1242.3 L1920.0 1242.8 L1922.4 1244.7 L1924.8 1247.8 L1927.2 1251.2 L1929.6 1252.5 L1932.0 1253.4 L1934.4 1254.2 L1936.8 1256.6 L1939.2 1259.2 L1941.6 1260.5 L1944.0 1260.9 L1946.4 1262.6 L1948.8 1264.9 L1951.2 1267.0 L1953.6 1269.3 L1956.0 1270.9 L1958.4 1269.7 L1960.8 1269.0 L1963.2 1270.8 L1965.6 1273.4 L1968.0 1277.7 L1970.4 1281.0 L1972.8 1279.0 L1975.2 1277.1 L1976.8 1279.6 L1978.4 1281.5 L1980.0 1282.3 L1981.6 1282.1 L1983.2 1281.7 L1984.8 1281.2 L1986.4 1280.8 L1988.0 1280.6 L1989.6 1280.8 L1991.2 1281.3 L1992.8 1282.2 L1994.4 1283.3 L1996.0 1284.5 L1997.6 1285.8 L1999.2 1287.1 L2000.8 1288.4 L2002.4 1290.4 L2004.0 1292.5 L2005.6 1294.1 L2007.2 1294.4 L2008.8 1294.1 L2010.4 1293.5 L2012.0 1292.9 L2013.6 1292.4 L2015.2 1292.0 L2016.8 1291.9 L2018.4 1292.6 L2020.0 1294.0 L2021.6 1295.8 L2023.2 1297.7 L2024.8 1299.6 L2026.4 1301.1 L2028.0 1302.1 L2029.6 1302.3 L2031.2 1301.1 L2032.8 1299.1 L2034.4 1297.3 L2036.0 1296.8 L2037.6 1297.7 L2039.2 1299.4 L2040.8 1301.3 L2042.4 1303.0 L2044.0 1303.9 L2045.6 1303.7 L2047.2 1302.3 L2048.8 1300.5 L2050.4 1298.9 L2052.0 1298.4 L2053.6 1299.9 L2055.2 1302.8 L2056.8 1305.9 L2058.4 1307.9 L2060.0 1307.3 L2061.6 1303.8 L2063.2 1299.5 L2064.8 1296.4 L2066.4 1296.4 L2068.0 1299.1 L2069.6 1303.1 L2071.2 1307.7 L2072.8 1311.7 L2074.4 1314.1 L2076.0 1314.1 L2077.6 1311.2 L2079.2 1307.0 L2080.8 1303.2 L2082.4 1301.6 L2084.0 1303.4 L2085.6 1306.9 L2087.2 1308.9 L2088.8 1308.6 L2090.4 1307.9 L2092.0 1306.8 L2093.6 1305.4 L2095.2 1304.0 L2096.8 1302.4 L2098.4 1300.0 L2100.0 1297.1 L2101.6 1294.7 L2103.2 1293.5 L2104.8 1302.4 L2106.4 1315.1 L2108.0 1313.9 L2108.5 1312.0"/>
<path stroke="#ff00ff" d="M286.5 859.0 L289.0 810.0 L291.2 776.6 L295.0 815.0 L298.3 852.0 L302.0 805.0 L305.4 767.0 L309.5 800.0 L313.6 826.0 L318.0 800.0 L321.9 781.3 L326.0 798.0 L330.0 812.0 L335.0 788.0 L339.5 767.0 L343.0 785.0 L346.6 800.0 L350.0 788.0 L353.7 776.6 L357.0 796.0 L360.8 814.3 L366.0 792.0 L371.4 775.4 L375.5 785.0 L379.6 792.0 L384.0 784.0 L387.9 777.8 L391.5 782.0 L395.0 786.0 L398.5 782.0 L402.0 778.9 L406.5 783.0 L411.4 787.2 L415.5 781.0 L419.7 775.4 L424.5 781.0 L429.0 786.0 L434.0 776.0 L439.7 767.0 L443.0 771.0 L446.8 774.2 L450.0 770.0 L453.9 766.0 L458.0 770.0 L462.0 774.2 L466.0 768.0 L470.4 763.6 L474.0 767.0 L477.5 769.5 L481.0 764.0 L484.5 760.0 L488.5 763.0 L492.8 766.0 L496.0 762.0 L499.9 758.9 L503.5 761.0 L506.9 763.6 L511.0 758.0 L515.2 753.0 L519.0 757.0 L522.3 760.0 L524.0 750.0 L526.4 753.8 L528.8 760.1 L531.2 760.8 L533.6 753.8 L536.0 748.1 L538.4 745.0 L540.8 747.7 L543.2 752.2 L545.6 753.3 L548.0 749.6 L550.4 750.6 L552.8 744.4 L555.2 747.3 L557.6 748.2 L560.0 746.7 L562.4 744.1 L564.8 740.0 L567.2 739.7 L569.6 743.0 L572.0 743.8 L574.4 743.6 L576.8 737.5 L579.2 736.1 L581.6 735.6 L584.0 733.4 L586.4 739.0 L588.8 742.7 L591.2 739.3 L593.6 733.5 L596.0 729.5 L598.4 730.5 L600.8 732.9 L603.2 737.1 L605.6 738.7 L608.0 736.1 L610.4 732.5 L612.8 728.4 L615.2 730.0 L617.6 729.6 L620.0 732.3 L622.4 730.1 L624.8 730.5 L627.2 730.3 L629.6 728.8 L632.0 729.2 L634.4 728.8 L636.8 727.8 L639.2 724.8 L641.6 725.5 L644.0 726.1 L646.4 730.6 L648.8 730.2 L651.2 726.1 L653.6 720.8 L656.0 720.0 L658.4 720.5 L660.8 723.3 L663.2 726.9 L665.6 725.1 L668.0 723.8 L670.4 718.2 L672.8 717.2 L675.2 717.3 L677.6 722.9 L680.0 723.2 L682.4 722.2 L684.8 719.4 L687.2 718.4 L689.6 719.7 L692.0 720.9 L694.4 719.5 L696.8 718.0 L699.2 715.4 L701.6 718.3 L704.0 720.7 L706.4 722.0 L708.8 721.6 L711.2 719.4 L713.6 715.6 L716.0 714.9 L718.4 719.1 L720.8 723.0 L723.2 724.5 L725.6 722.1 L728.0 718.7 L730.4 715.1 L732.8 713.7 L735.2 718.7 L737.6 721.1 L740.0 722.7 L742.4 720.8 L744.8 716.6 L747.2 717.1 L749.6 716.2 L752.0 718.9 L754.4 717.1 L756.8 716.1 L759.2 715.1 L761.6 716.5 L764.0 718.7 L766.4 717.4 L768.8 716.7 L771.2 715.9 L773.6 713.7 L776.0 714.6 L778.4 715.9 L780.8 716.9 L783.2 717.0 L785.6 717.2 L788.0 713.9 L790.4 712.6 L792.8 714.8 L795.2 716.8 L797.6 718.3 L800.0 717.8 L802.4 715.9 L804.8 713.2 L807.2 713.5 L809.6 714.5 L812.0 717.1 L814.4 719.1 L816.8 719.2 L819.2 717.1 L821.6 717.9 L824.0 718.4 L826.4 719.3 L828.8 721.4 L831.2 723.5 L833.6 723.4 L836.0 723.3 L838.4 724.1 L840.8 725.4 L843.2 726.4 L845.6 729.6 L848.0 729.3 L850.4 730.7 L852.8 733.3 L855.2 736.0 L857.6 739.0 L860.0 741.1 L862.4 742.5 L864.8 745.2 L867.2 747.8 L869.6 751.1 L872.0 756.0 L874.4 760.6 L876.8 763.0 L879.2 766.2 L881.6 769.1 L884.0 773.3 L886.4 777.6 L888.8 781.9 L891.2 786.1 L893.6 787.7 L896.0 788.7 L898.4 789.9 L900.8 792.3 L903.2 795.4 L905.6 797.5 L908.0 798.6 L910.4 799.3 L912.8 800.2 L915.2 801.1 L917.6 802.9 L920.0 804.0 L922.4 805.2 L924.8 805.5 L927.2 806.4 L929.6 808.2 L932.0 809.9 L934.4 810.9 L936.8 811.8 L939.2 811.2 L941.6 812.0 L944.0 814.3 L946.4 816.6 L948.8 819.2 L951.2 820.0 L953.6 819.7 L956.0 819.6 L958.4 819.7 L960.8 821.2 L963.2 824.2 L965.6 825.4 L968.0 826.2 L970.4 825.4 L972.8 825.2 L975.2 825.7 L977.6 827.3 L980.0 828.5 L982.4 829.2 L984.8 829.0 L987.2 829.5 L989.6 829.5 L992.0 829.9 L994.4 830.8 L996.8 831.3 L999.2 831.6 L1001.6 831.8 L1004.0 833.0 L1006.4 834.9 L1008.8 836.0 L1011.2 835.9 L1013.6 835.2 L1016.0 835.7 L1018.4 836.5 L1020.8 837.6 L1023.2 840.5 L1025.6 841.7 L1028.0 841.0 L1030.4 840.7 L1032.8 840.6 L1035.2 842.0 L1037.6 844.0 L1040.0 846.1 L1042.4 846.7 L1044.8 846.7 L1047.2 846.9 L1049.6 848.2 L1052.0 849.4 L1054.4 850.5 L1056.8 852.4 L1059.2 852.9 L1061.6 853.6 L1064.0 855.7 L1066.4 857.0 L1068.8 858.9 L1071.2 859.2 L1073.6 859.8 L1076.0 860.8 L1078.4 862.9 L1080.8 864.9 L1083.2 866.8 L1085.6 868.6 L1088.0 867.9 L1090.4 868.5 L1092.8 868.8 L1095.2 870.6 L1097.6 873.8 L1100.0 875.9 L1102.4 876.5 L1104.8 876.2 L1107.2 876.8 L1109.6 877.7 L1112.0 880.0 L1114.4 882.9 L1116.8 884.8 L1119.2 884.5 L1121.6 886.2 L1124.0 887.9 L1126.4 889.6 L1128.8 891.4 L1131.2 892.4 L1133.6 893.3 L1136.0 894.9 L1138.4 897.6 L1140.8 900.6 L1143.2 902.3 L1145.6 902.2 L1148.0 902.6 L1150.4 903.1 L1152.8 906.0 L1155.2 908.9 L1157.6 911.7 L1160.0 913.0 L1162.4 913.7 L1164.8 914.1 L1167.2 916.6 L1169.6 918.5 L1172.0 920.1 L1174.4 922.7 L1176.8 923.2 L1179.2 925.1 L1181.6 927.9 L1184.0 930.1 L1186.4 932.3 L1188.8 933.1 L1191.2 933.7 L1193.6 935.2 L1196.0 937.9 L1198.4 941.5 L1200.8 943.6 L1203.2 944.2 L1205.6 944.3 L1208.0 945.3 L1210.4 946.9 L1212.8 949.2 L1215.2 951.3 L1217.6 953.0 L1220.0 953.6 L1222.4 953.4 L1224.8 954.2 L1227.2 955.7 L1229.6 958.0 L1232.0 958.6 L1234.4 959.5 L1236.8 960.6 L1239.2 960.8 L1241.6 962.5 L1244.0 964.4 L1246.4 964.9 L1248.8 965.0 L1251.2 965.8 L1253.6 965.8 L1256.0 967.9 L1258.4 969.9 L1260.8 970.0 L1263.2 969.6 L1265.6 968.8 L1268.0 969.1 L1270.4 970.1 L1272.8 972.8 L1275.2 973.8 L1277.6 974.0 L1280.0 971.4 L1282.4 969.9 L1284.8 970.6 L1287.2 971.7 L1289.6 973.1 L1292.0 973.1 L1294.4 971.7 L1296.8 971.5 L1299.2 970.6 L1301.6 970.5 L1304.0 971.5 L1306.4 971.5 L1308.8 970.5 L1311.2 969.5 L1313.6 969.5 L1316.0 968.7 L1318.4 968.5 L1320.8 967.6 L1323.2 965.2 L1325.6 964.2 L1328.0 964.1 L1330.4 964.5 L1332.8 964.6 L1335.2 964.1 L1337.6 962.9 L1340.0 960.0 L1342.4 958.5 L1344.8 958.9 L1347.2 959.7 L1349.6 960.5 L1352.0 959.3 L1354.4 957.3 L1356.8 955.4 L1359.2 954.7 L1361.6 953.3 L1364.0 954.1 L1366.4 954.6 L1368.8 953.1 L1371.2 952.1 L1373.6 950.8 L1376.0 950.9 L1378.4 950.9 L1380.8 950.5 L1383.2 948.5 L1385.6 947.6 L1388.0 947.6 L1390.4 948.9 L1392.8 948.5 L1395.2 947.6 L1397.6 942.9 L1400.0 941.4 L1402.4 940.2 L1404.8 941.4 L1407.2 942.8 L1409.6 941.9 L1412.0 940.6 L1414.4 937.5 L1416.8 936.0 L1419.2 935.8 L1421.6 936.7 L1424.0 937.1 L1426.4 935.2 L1428.8 933.9 L1431.2 932.7 L1433.6 932.1 L1436.0 932.4 L1438.4 932.9 L1440.8 931.6 L1443.2 931.0 L1445.6 929.7 L1448.0 930.3 L1450.4 929.9 L1452.8 929.9 L1455.2 929.5 L1457.6 926.6 L1460.0 925.9 L1462.4 925.6 L1464.8 926.4 L1467.2 928.3 L1469.6 928.7 L1472.0 928.3 L1474.4 925.1 L1476.8 925.4 L1479.2 926.1 L1481.6 926.9 L1484.0 929.3 L1486.4 929.9 L1488.8 927.2 L1491.2 925.4 L1493.6 924.2 L1496.0 924.4 L1498.4 926.1 L1500.8 926.8 L1503.2 925.7 L1505.6 924.5 L1508.0 921.8 L1510.4 921.8 L1512.8 921.8 L1515.2 922.1 L1517.6 921.2 L1520.0 920.3 L1522.4 919.3 L1524.8 919.8 L1527.2 919.8 L1529.6 919.7 L1532.0 917.9 L1534.4 916.9 L1536.8 917.4 L1539.2 917.3 L1541.6 919.0 L1544.0 920.2 L1546.4 920.0 L1548.8 917.4 L1551.2 916.5 L1553.6 916.7 L1556.0 917.5 L1558.4 920.2 L1560.8 921.2 L1563.2 920.4 L1565.6 918.5 L1568.0 917.2 L1570.4 917.0 L1572.8 918.7 L1575.2 921.8 L1577.6 923.3 L1580.0 923.0 L1582.4 921.1 L1584.8 921.5 L1587.2 922.6 L1589.6 924.5 L1592.0 926.7 L1594.4 927.1 L1596.8 927.1 L1599.2 927.1 L1601.6 928.0 L1604.0 929.8 L1606.4 931.1 L1608.8 930.2 L1611.2 930.4 L1613.6 930.8 L1616.0 932.4 L1618.4 935.3 L1620.8 935.9 L1623.2 935.5 L1625.6 934.4 L1628.0 935.2 L1630.4 936.8 L1632.8 939.2 L1635.2 942.0 L1637.6 942.0 L1640.0 941.5 L1642.4 940.5 L1644.8 941.9 L1647.2 942.7 L1649.6 946.6 L1652.0 949.7 L1654.4 949.3 L1656.8 950.3 L1659.2 950.6 L1661.6 951.6 L1664.0 953.3 L1666.4 956.8 L1668.8 958.6 L1671.2 959.7 L1673.6 959.7 L1676.0 960.6 L1678.4 963.2 L1680.8 965.3 L1683.2 966.4 L1685.6 968.3 L1688.0 969.1 L1690.4 971.4 L1692.8 972.7 L1695.2 976.3 L1697.6 977.2 L1700.0 978.8 L1702.4 978.9 L1704.8 980.3 L1707.2 983.2 L1709.6 987.2 L1712.0 989.6 L1714.4 991.3 L1716.8 991.4 L1719.2 992.3 L1721.6 994.3 L1724.0 998.3 L1726.4 1000.9 L1728.8 1004.3 L1731.2 1005.2 L1733.6 1004.8 L1736.0 1005.0 L1738.4 1007.2 L1740.8 1010.7 L1743.2 1014.1 L1745.6 1017.1 L1748.0 1017.4 L1750.4 1019.3 L1752.8 1020.2 L1755.2 1022.4 L1757.6 1025.7 L1760.0 1029.6 L1762.4 1032.1 L1764.8 1033.8 L1767.2 1035.7 L1769.6 1038.9 L1772.0 1042.1 L1774.4 1044.7 L1776.8 1046.7 L1779.2 1048.1 L1781.6 1051.1 L1784.0 1054.0 L1786.4 1058.3 L1788.8 1060.3 L1791.2 1062.7 L1793.6 1064.2 L1796.0 1066.6 L1798.4 1069.2 L1800.8 1074.4 L1803.2 1078.5 L1805.6 1081.5 L1808.0 1083.4 L1810.4 1083.9 L1812.8 1086.5 L1815.2 1091.1 L1817.6 1094.8 L1820.0 1097.3 L1822.4 1100.5 L1824.8 1101.9 L1827.2 1104.0 L1829.6 1107.4 L1832.0 1110.0 L1834.4 1113.3 L1836.8 1115.3 L1839.2 1116.8 L1841.6 1119.5 L1844.0 1123.4 L1846.4 1126.7 L1848.8 1128.6 L1851.2 1131.3 L1853.6 1132.9 L1856.0 1135.7 L1858.4 1138.8 L1860.8 1141.9 L1863.2 1146.2 L1865.6 1147.5 L1868.0 1149.0 L1870.4 1150.2 L1872.8 1153.0 L1875.2 1157.0 L1877.6 1161.2 L1880.0 1164.4 L1882.4 1166.2 L1884.8 1167.0 L1887.2 1169.2 L1889.6 1171.8 L1892.0 1175.9 L1894.4 1179.0 L1896.8 1181.6 L1899.2 1183.5 L1901.6 1185.5 L1904.0 1187.5 L1906.4 1190.6 L1908.8 1193.2 L1911.2 1195.4 L1913.6 1196.2 L1916.0 1198.7 L1918.4 1200.5 L1920.8 1203.9 L1923.2 1205.8 L1925.6 1206.9 L1928.0 1207.3 L1930.4 1208.9 L1932.8 1210.6 L1935.2 1215.0 L1937.6 1218.5 L1940.0 1220.1 L1942.4 1220.2 L1944.8 1220.0 L1947.2 1221.1 L1949.6 1225.4 L1952.0 1229.1 L1954.4 1233.2 L1956.8 1232.4 L1959.2 1233.1 L1961.6 1233.6 L1964.0 1235.9 L1966.4 1237.9 L1968.8 1239.5 L1971.2 1241.0 L1973.6 1241.1 L1976.0 1241.4 L1977.6 1244.6 L1979.2 1246.5 L1980.8 1246.6 L1982.4 1245.8 L1984.0 1245.2 L1985.6 1246.2 L1987.2 1248.5 L1988.8 1251.3 L1990.4 1253.7 L1992.0 1254.8 L1993.6 1254.4 L1995.2 1253.5 L1996.8 1252.3 L1998.4 1251.3 L2000.0 1250.8 L2001.6 1251.2 L2003.2 1252.7 L2004.8 1254.7 L2006.4 1257.1 L2008.0 1259.4 L2009.6 1261.4 L2011.2 1262.6 L2012.8 1262.9 L2014.4 1262.5 L2016.0 1261.7 L2017.6 1260.8 L2019.2 1260.0 L2020.8 1259.3 L2022.4 1258.9 L2024.0 1259.7 L2025.6 1262.3 L2027.2 1265.1 L2028.8 1266.8 L2030.4 1266.6 L2032.0 1265.6 L2033.6 1264.2 L2035.2 1262.5 L2036.8 1261.0 L2038.4 1260.0 L2040.0 1259.7 L2041.6 1261.2 L2043.2 1264.0 L2044.8 1267.5 L2046.4 1270.9 L2048.0 1273.4 L2049.6 1274.2 L2051.2 1273.2 L2052.8 1271.1 L2054.4 1268.7 L2056.0 1266.8 L2057.6 1266.1 L2059.2 1267.3 L2060.8 1269.8 L2062.4 1272.6 L2064.0 1274.9 L2065.6 1275.8 L2067.2 1275.0 L2068.8 1273.2 L2070.4 1270.9 L2072.0 1268.6 L2073.6 1266.8 L2075.2 1266.1 L2076.8 1268.4 L2078.4 1273.3 L2080.0 1278.3 L2081.6 1280.6 L2083.2 1279.2 L2084.8 1275.9 L2086.4 1271.9 L2088.0 1268.5 L2089.6 1266.9 L2091.2 1269.5 L2092.8 1275.8 L2094.4 1282.3 L2096.0 1285.5 L2097.6 1283.1 L2099.2 1277.1 L2100.8 1270.7 L2102.4 1264.0 L2104.0 1259.0 L2105.6 1259.0 L2107.2 1259.7 L2108.5 1261.3"/>
</g>
<g stroke="#000" fill="none" shape-rendering="crispEdges">
<line x1="377.0" y1="411.4" x2="377.0" y2="1524.0" stroke-width="4" stroke-dasharray="10.8 10.8"/>
<line x1="782.5" y1="403.1" x2="782.5" y2="1515.0" stroke-width="3" stroke-dasharray="10.8 10.8"/>
<line x1="846.5" y1="405.9" x2="846.5" y2="1518.0" stroke-width="3" stroke-dasharray="10.8 10.8"/>
<line x1="1064.0" y1="795.4" x2="1064.0" y2="1537.0" stroke-width="4" stroke-dasharray="10.8 10.8"/>
<line x1="1555.0" y1="852.0" x2="1555.0" y2="1533.0" stroke-width="3.5" stroke-dasharray="10.8 10.8"/>
</g>
<line x1="784.5" y1="421.4" x2="818" y2="423.3" stroke="#000" stroke-width="3"/>
<polygon points="813.5,413.1 852.1,424.7 813.5,433" fill="#000"/>
<rect x="1737" y="172.0" width="128" height="9" fill="#000" shape-rendering="crispEdges"/>
<rect x="1737" y="263.0" width="128" height="8" fill="#f00" shape-rendering="crispEdges"/>
<rect x="1737" y="352.0" width="128" height="8" fill="#0f0" shape-rendering="crispEdges"/>
<rect x="1737" y="434.0" width="128" height="8" fill="#00f" shape-rendering="crispEdges"/>
<rect x="1737" y="515.0" width="128" height="8" fill="#0ff" shape-rendering="crispEdges"/>
<rect x="1737" y="597.0" width="128" height="8" fill="#f0f" shape-rendering="crispEdges"/>
<g font-family="'Liberation Sans', Arial, Helvetica, sans-serif" fill="#000">
<text transform="translate(1881.5,196.9) scale(1,1.04)" font-size="56.5" text-anchor="start">Fe<tspan dy="22.2" font-size="34">2</tspan><tspan dy="-22.2">O</tspan><tspan dy="22.2" font-size="34">3</tspan></text>
<text transform="translate(1881.0,286.9) scale(1,1.04)" font-size="56.5" text-anchor="start">CeO<tspan dy="21.2" font-size="34">2</tspan></text>
<text transform="translate(1881.0,376.9) scale(1,1.04)" font-size="56.5" text-anchor="start">Initial</text>
<text transform="translate(1881.3,457.7) scale(1,1.04)" font-size="56.5" text-anchor="start">400<tspan dy="-30.8" dx="-1.5" font-size="34">o</tspan><tspan dy="30.8">C</tspan></text>
<text transform="translate(1881.8,538.5) scale(1,1.04)" font-size="56.5" text-anchor="start">600<tspan dy="-30.8" dx="-1.5" font-size="34">o</tspan><tspan dy="30.8">C</tspan></text>
<text transform="translate(1881.8,620.0) scale(1,1.04)" font-size="56.5" text-anchor="start">800<tspan dy="-30.8" dx="-1.5" font-size="34">o</tspan><tspan dy="30.8">C</tspan></text>
<text transform="translate(308.0,366.2) scale(1,1.04)" font-size="56.8" text-anchor="start">378 nm</text>
<text transform="translate(688.5,361.2) scale(1,1.04)" font-size="56.8" text-anchor="start">547</text>
<text transform="translate(849.0,361.2) scale(1,1.04)" font-size="56.8" text-anchor="start">574</text>
<text transform="translate(1023.5,764.0) scale(1,1.04)" font-size="56.8" text-anchor="start">661</text>
<text transform="translate(1487.0,815.0) scale(1,1.04)" font-size="56.8" text-anchor="start">871</text>
<text transform="translate(241.0,1562.9) scale(1,1.04)" font-size="80" text-anchor="end">0.0</text>
<text transform="translate(241.0,1318.2) scale(1,1.04)" font-size="80" text-anchor="end">0.3</text>
<text transform="translate(241.0,1073.6) scale(1,1.04)" font-size="80" text-anchor="end">0.6</text>
<text transform="translate(241.0,828.9) scale(1,1.04)" font-size="80" text-anchor="end">0.9</text>
<text transform="translate(241.0,584.2) scale(1,1.04)" font-size="80" text-anchor="end">1.2</text>
<text transform="translate(241.0,339.6) scale(1,1.04)" font-size="80" text-anchor="end">1.5</text>
<text transform="translate(241.0,94.9) scale(1,1.04)" font-size="80" text-anchor="end">1.8</text>
<text transform="translate(430.0,1650.0) scale(1,1.04)" font-size="80" text-anchor="middle">400</text>
<text transform="translate(669.8,1650.0) scale(1,1.04)" font-size="80" text-anchor="middle">500</text>
<text transform="translate(909.5,1650.0) scale(1,1.04)" font-size="80" text-anchor="middle">600</text>
<text transform="translate(1149.3,1650.0) scale(1,1.04)" font-size="80" text-anchor="middle">700</text>
<text transform="translate(1389.0,1650.0) scale(1,1.04)" font-size="80" text-anchor="middle">800</text>
<text transform="translate(1628.7,1650.0) scale(1,1.04)" font-size="80" text-anchor="middle">900</text>
<text transform="translate(1868.5,1650.0) scale(1,1.04)" font-size="80" text-anchor="middle">1000</text>
<text transform="translate(2110.8,1650.0) scale(1,1.04)" font-size="80" text-anchor="middle">1100</text>
<text transform="translate(1197.2,1781.0) scale(1,1.025)" font-size="80.3" text-anchor="middle">Wavelength, nm</text>
<text transform="translate(75.3,836.5) rotate(-90) scale(1,1.02)" font-size="79.8" text-anchor="middle">Absorbance</text>
</g>
</svg>
</body></html>
